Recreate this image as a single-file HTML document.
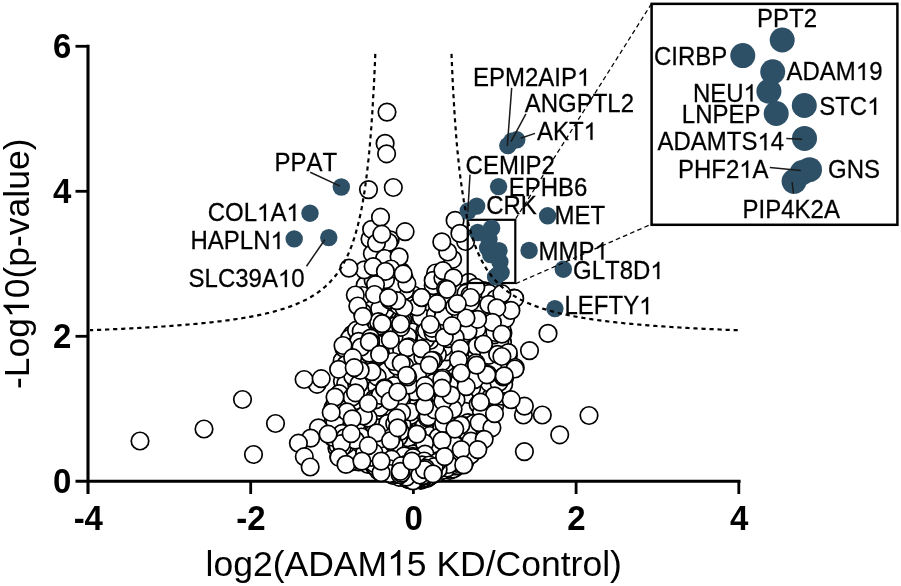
<!DOCTYPE html>
<html><head><meta charset="utf-8"><title>Volcano plot</title>
<style>
html,body{margin:0;padding:0;background:#fff;}
body{width:901px;height:586px;overflow:hidden;font-family:"Liberation Sans",sans-serif;}
svg{display:block;will-change:transform}
text{font-family:"Liberation Sans",sans-serif;fill:#000}
.lab{font-size:24px;font-kerning:none;stroke:#000;stroke-width:0.25px}
.tick{font-size:33px;font-weight:bold}
.title{font-size:35.5px;font-kerning:none}
.w circle{fill:#fff;stroke:#000;stroke-width:1.7}
.d circle{fill:#2d5066}
.ln line{stroke:#1a1a1a;stroke-width:1.5}
</style></head><body>
<svg width="901" height="586" viewBox="0 0 901 586">
<rect width="901" height="586" fill="#fff"/>

<g stroke="#000" stroke-width="3.1" fill="none">
<path d="M88 44.8V494"/>
<path d="M75.5 481.3H740.6"/>
</g>
<g stroke="#000" stroke-width="2.8" fill="none">
<path d="M75.5 336.3H88"/>
<path d="M75.5 191.3H88"/>
<path d="M75.5 46.3H88"/>
<path d="M250.7 481.3V494"/>
<path d="M413.4 481.3V494"/>
<path d="M576.1 481.3V494"/>
<path d="M738.8 481.3V494"/>
</g>
<text class="tick" transform="translate(71.3 493.0) scale(1 1.041)" text-anchor="end">0</text>
<text class="tick" transform="translate(71.3 348.0) scale(1 1.041)" text-anchor="end">2</text>
<text class="tick" transform="translate(71.3 203.0) scale(1 1.041)" text-anchor="end">4</text>
<text class="tick" transform="translate(71.3 58.0) scale(1 1.041)" text-anchor="end">6</text>
<text class="tick" transform="translate(88.3 530.1) scale(1 1.041)" text-anchor="middle">-4</text>
<text class="tick" transform="translate(251.0 530.1) scale(1 1.041)" text-anchor="middle">-2</text>
<text class="tick" transform="translate(413.7 530.1) scale(1 1.041)" text-anchor="middle">0</text>
<text class="tick" transform="translate(576.4 530.1) scale(1 1.041)" text-anchor="middle">2</text>
<text class="tick" transform="translate(739.1 530.1) scale(1 1.041)" text-anchor="middle">4</text>
<g transform="translate(205.55 575.6)"><text class="title"><tspan x="0.00">log2(ADAM</tspan><tspan x="201.25">5 KD/Control)</tspan></text><path class="title" vector-effect="non-scaling-stroke" transform="translate(181.50 0) scale(0.01733 -0.01733)" d="M763 0H583V1147Q518 1085 412.5 1023T223 930V1104Q374 1175 487 1276T647 1472H763Z"/></g>
<g transform="translate(29 389.11) rotate(-90)"><text class="title"><tspan x="0.00">-Log</tspan><tspan x="90.80">0(p-value)</tspan></text><path class="title" vector-effect="non-scaling-stroke" transform="translate(71.05 0) scale(0.01733 -0.01733)" d="M763 0H583V1147Q518 1085 412.5 1023T223 930V1104Q374 1175 487 1276T647 1472H763Z"/></g>
<g class="w">
<circle cx="411.0" cy="465.1" r="8.75"/>
<circle cx="346.2" cy="346.0" r="8.75"/>
<circle cx="433.9" cy="437.2" r="8.75"/>
<circle cx="410.8" cy="411.4" r="8.75"/>
<circle cx="410.5" cy="422.5" r="8.75"/>
<circle cx="425.0" cy="470.6" r="8.75"/>
<circle cx="369.7" cy="373.4" r="8.75"/>
<circle cx="370.8" cy="281.0" r="8.75"/>
<circle cx="387.1" cy="330.0" r="8.75"/>
<circle cx="367.4" cy="313.4" r="8.75"/>
<circle cx="471.2" cy="325.2" r="8.75"/>
<circle cx="452.6" cy="454.8" r="8.75"/>
<circle cx="486.2" cy="293.2" r="8.75"/>
<circle cx="457.5" cy="454.1" r="8.75"/>
<circle cx="404.8" cy="473.1" r="8.75"/>
<circle cx="423.2" cy="367.0" r="8.75"/>
<circle cx="406.9" cy="361.2" r="8.75"/>
<circle cx="423.8" cy="466.4" r="8.75"/>
<circle cx="482.9" cy="384.4" r="8.75"/>
<circle cx="407.3" cy="444.6" r="8.75"/>
<circle cx="341.5" cy="391.4" r="8.75"/>
<circle cx="475.8" cy="369.6" r="8.75"/>
<circle cx="438.1" cy="450.6" r="8.75"/>
<circle cx="394.6" cy="442.6" r="8.75"/>
<circle cx="426.8" cy="443.1" r="8.75"/>
<circle cx="403.2" cy="424.4" r="8.75"/>
<circle cx="471.8" cy="387.1" r="8.75"/>
<circle cx="416.6" cy="439.2" r="8.75"/>
<circle cx="421.0" cy="471.5" r="8.75"/>
<circle cx="483.1" cy="304.5" r="8.75"/>
<circle cx="395.2" cy="419.2" r="8.75"/>
<circle cx="472.4" cy="442.0" r="8.75"/>
<circle cx="423.4" cy="433.4" r="8.75"/>
<circle cx="452.9" cy="281.8" r="8.75"/>
<circle cx="375.2" cy="365.7" r="8.75"/>
<circle cx="419.9" cy="406.3" r="8.75"/>
<circle cx="423.3" cy="438.2" r="8.75"/>
<circle cx="439.4" cy="432.8" r="8.75"/>
<circle cx="460.8" cy="374.2" r="8.75"/>
<circle cx="412.9" cy="429.7" r="8.75"/>
<circle cx="438.7" cy="460.9" r="8.75"/>
<circle cx="342.1" cy="430.4" r="8.75"/>
<circle cx="378.4" cy="270.0" r="8.75"/>
<circle cx="366.1" cy="331.2" r="8.75"/>
<circle cx="434.1" cy="466.9" r="8.75"/>
<circle cx="383.3" cy="371.6" r="8.75"/>
<circle cx="347.4" cy="356.7" r="8.75"/>
<circle cx="386.2" cy="462.4" r="8.75"/>
<circle cx="469.1" cy="413.5" r="8.75"/>
<circle cx="441.5" cy="307.1" r="8.75"/>
<circle cx="420.2" cy="448.7" r="8.75"/>
<circle cx="429.6" cy="432.8" r="8.75"/>
<circle cx="425.4" cy="454.6" r="8.75"/>
<circle cx="448.4" cy="312.3" r="8.75"/>
<circle cx="390.2" cy="431.5" r="8.75"/>
<circle cx="402.7" cy="345.1" r="8.75"/>
<circle cx="491.0" cy="380.1" r="8.75"/>
<circle cx="360.1" cy="420.7" r="8.75"/>
<circle cx="410.5" cy="450.7" r="8.75"/>
<circle cx="426.4" cy="445.6" r="8.75"/>
<circle cx="437.1" cy="426.7" r="8.75"/>
<circle cx="380.9" cy="442.7" r="8.75"/>
<circle cx="381.7" cy="427.1" r="8.75"/>
<circle cx="446.4" cy="447.0" r="8.75"/>
<circle cx="343.7" cy="385.4" r="8.75"/>
<circle cx="423.1" cy="357.9" r="8.75"/>
<circle cx="418.4" cy="397.5" r="8.75"/>
<circle cx="365.5" cy="456.9" r="8.75"/>
<circle cx="413.8" cy="447.1" r="8.75"/>
<circle cx="463.8" cy="286.0" r="8.75"/>
<circle cx="465.4" cy="444.2" r="8.75"/>
<circle cx="476.5" cy="305.4" r="8.75"/>
<circle cx="407.5" cy="432.7" r="8.75"/>
<circle cx="397.1" cy="447.1" r="8.75"/>
<circle cx="380.5" cy="466.7" r="8.75"/>
<circle cx="426.2" cy="407.9" r="8.75"/>
<circle cx="436.4" cy="430.7" r="8.75"/>
<circle cx="400.0" cy="301.0" r="8.75"/>
<circle cx="436.5" cy="288.1" r="8.75"/>
<circle cx="336.5" cy="420.1" r="8.75"/>
<circle cx="403.2" cy="320.4" r="8.75"/>
<circle cx="396.0" cy="430.8" r="8.75"/>
<circle cx="403.2" cy="449.3" r="8.75"/>
<circle cx="394.9" cy="467.7" r="8.75"/>
<circle cx="454.6" cy="316.1" r="8.75"/>
<circle cx="460.6" cy="373.7" r="8.75"/>
<circle cx="442.7" cy="461.9" r="8.75"/>
<circle cx="430.2" cy="445.4" r="8.75"/>
<circle cx="414.9" cy="435.5" r="8.75"/>
<circle cx="461.0" cy="444.0" r="8.75"/>
<circle cx="375.8" cy="278.0" r="8.75"/>
<circle cx="453.6" cy="311.8" r="8.75"/>
<circle cx="415.9" cy="463.8" r="8.75"/>
<circle cx="410.2" cy="474.9" r="8.75"/>
<circle cx="380.9" cy="346.5" r="8.75"/>
<circle cx="408.7" cy="423.2" r="8.75"/>
<circle cx="436.8" cy="458.4" r="8.75"/>
<circle cx="444.4" cy="404.0" r="8.75"/>
<circle cx="493.3" cy="400.9" r="8.75"/>
<circle cx="425.3" cy="427.9" r="8.75"/>
<circle cx="384.7" cy="468.8" r="8.75"/>
<circle cx="377.3" cy="339.5" r="8.75"/>
<circle cx="417.3" cy="459.2" r="8.75"/>
<circle cx="371.4" cy="410.5" r="8.75"/>
<circle cx="405.7" cy="355.0" r="8.75"/>
<circle cx="405.9" cy="427.5" r="8.75"/>
<circle cx="478.5" cy="441.8" r="8.75"/>
<circle cx="428.9" cy="423.0" r="8.75"/>
<circle cx="410.5" cy="457.6" r="8.75"/>
<circle cx="423.8" cy="475.3" r="8.75"/>
<circle cx="405.9" cy="441.5" r="8.75"/>
<circle cx="452.9" cy="433.0" r="8.75"/>
<circle cx="438.1" cy="336.8" r="8.75"/>
<circle cx="428.6" cy="454.7" r="8.75"/>
<circle cx="448.1" cy="291.7" r="8.75"/>
<circle cx="385.1" cy="426.5" r="8.75"/>
<circle cx="458.2" cy="400.1" r="8.75"/>
<circle cx="367.9" cy="453.8" r="8.75"/>
<circle cx="465.0" cy="381.9" r="8.75"/>
<circle cx="408.2" cy="458.1" r="8.75"/>
<circle cx="389.0" cy="265.5" r="8.75"/>
<circle cx="420.9" cy="480.3" r="8.75"/>
<circle cx="444.4" cy="350.0" r="8.75"/>
<circle cx="407.0" cy="472.0" r="8.75"/>
<circle cx="381.1" cy="447.1" r="8.75"/>
<circle cx="409.4" cy="438.6" r="8.75"/>
<circle cx="449.9" cy="470.4" r="8.75"/>
<circle cx="429.0" cy="438.9" r="8.75"/>
<circle cx="455.1" cy="462.0" r="8.75"/>
<circle cx="364.2" cy="388.4" r="8.75"/>
<circle cx="403.4" cy="285.6" r="8.75"/>
<circle cx="421.0" cy="456.2" r="8.75"/>
<circle cx="393.9" cy="407.9" r="8.75"/>
<circle cx="380.6" cy="457.4" r="8.75"/>
<circle cx="434.8" cy="419.8" r="8.75"/>
<circle cx="352.3" cy="334.4" r="8.75"/>
<circle cx="438.0" cy="421.3" r="8.75"/>
<circle cx="371.7" cy="453.7" r="8.75"/>
<circle cx="403.9" cy="441.0" r="8.75"/>
<circle cx="447.8" cy="281.8" r="8.75"/>
<circle cx="355.7" cy="334.0" r="8.75"/>
<circle cx="432.1" cy="450.9" r="8.75"/>
<circle cx="385.3" cy="402.6" r="8.75"/>
<circle cx="413.9" cy="440.8" r="8.75"/>
<circle cx="502.4" cy="378.3" r="8.75"/>
<circle cx="345.2" cy="384.4" r="8.75"/>
<circle cx="467.9" cy="324.0" r="8.75"/>
<circle cx="469.9" cy="296.3" r="8.75"/>
<circle cx="352.4" cy="437.0" r="8.75"/>
<circle cx="397.4" cy="461.3" r="8.75"/>
<circle cx="385.8" cy="445.5" r="8.75"/>
<circle cx="418.4" cy="463.2" r="8.75"/>
<circle cx="383.9" cy="343.0" r="8.75"/>
<circle cx="375.7" cy="422.7" r="8.75"/>
<circle cx="454.7" cy="468.3" r="8.75"/>
<circle cx="421.9" cy="454.8" r="8.75"/>
<circle cx="414.2" cy="362.3" r="8.75"/>
<circle cx="458.3" cy="419.0" r="8.75"/>
<circle cx="368.5" cy="326.3" r="8.75"/>
<circle cx="372.1" cy="420.6" r="8.75"/>
<circle cx="401.5" cy="418.6" r="8.75"/>
<circle cx="402.4" cy="468.0" r="8.75"/>
<circle cx="485.3" cy="330.5" r="8.75"/>
<circle cx="456.6" cy="429.6" r="8.75"/>
<circle cx="337.9" cy="446.7" r="8.75"/>
<circle cx="433.0" cy="331.4" r="8.75"/>
<circle cx="387.6" cy="404.9" r="8.75"/>
<circle cx="426.9" cy="397.1" r="8.75"/>
<circle cx="370.7" cy="326.3" r="8.75"/>
<circle cx="397.6" cy="319.9" r="8.75"/>
<circle cx="409.0" cy="377.7" r="8.75"/>
<circle cx="414.4" cy="457.3" r="8.75"/>
<circle cx="425.1" cy="443.7" r="8.75"/>
<circle cx="378.3" cy="470.6" r="8.75"/>
<circle cx="359.6" cy="402.3" r="8.75"/>
<circle cx="424.6" cy="344.4" r="8.75"/>
<circle cx="416.3" cy="365.2" r="8.75"/>
<circle cx="405.1" cy="384.0" r="8.75"/>
<circle cx="425.0" cy="362.9" r="8.75"/>
<circle cx="375.5" cy="438.9" r="8.75"/>
<circle cx="397.8" cy="470.3" r="8.75"/>
<circle cx="447.5" cy="463.4" r="8.75"/>
<circle cx="485.3" cy="291.0" r="8.75"/>
<circle cx="468.1" cy="453.9" r="8.75"/>
<circle cx="469.6" cy="335.8" r="8.75"/>
<circle cx="480.1" cy="361.3" r="8.75"/>
<circle cx="397.9" cy="303.6" r="8.75"/>
<circle cx="390.8" cy="376.4" r="8.75"/>
<circle cx="397.4" cy="373.8" r="8.75"/>
<circle cx="422.4" cy="333.6" r="8.75"/>
<circle cx="433.5" cy="346.2" r="8.75"/>
<circle cx="402.3" cy="468.0" r="8.75"/>
<circle cx="379.1" cy="423.9" r="8.75"/>
<circle cx="388.2" cy="454.6" r="8.75"/>
<circle cx="426.9" cy="442.2" r="8.75"/>
<circle cx="447.3" cy="296.8" r="8.75"/>
<circle cx="453.5" cy="462.8" r="8.75"/>
<circle cx="366.3" cy="381.2" r="8.75"/>
<circle cx="353.7" cy="367.9" r="8.75"/>
<circle cx="439.1" cy="390.8" r="8.75"/>
<circle cx="460.9" cy="411.7" r="8.75"/>
<circle cx="423.3" cy="315.9" r="8.75"/>
<circle cx="426.4" cy="442.0" r="8.75"/>
<circle cx="423.2" cy="479.5" r="8.75"/>
<circle cx="442.4" cy="445.4" r="8.75"/>
<circle cx="458.1" cy="463.7" r="8.75"/>
<circle cx="466.3" cy="444.4" r="8.75"/>
<circle cx="413.4" cy="451.0" r="8.75"/>
<circle cx="438.0" cy="454.5" r="8.75"/>
<circle cx="486.7" cy="354.3" r="8.75"/>
<circle cx="413.0" cy="464.5" r="8.75"/>
<circle cx="386.0" cy="382.7" r="8.75"/>
<circle cx="502.5" cy="342.3" r="8.75"/>
<circle cx="408.8" cy="473.9" r="8.75"/>
<circle cx="336.4" cy="423.0" r="8.75"/>
<circle cx="360.9" cy="296.2" r="8.75"/>
<circle cx="401.3" cy="462.5" r="8.75"/>
<circle cx="464.1" cy="443.4" r="8.75"/>
<circle cx="338.6" cy="430.2" r="8.75"/>
<circle cx="446.5" cy="418.8" r="8.75"/>
<circle cx="402.8" cy="429.3" r="8.75"/>
<circle cx="404.8" cy="436.2" r="8.75"/>
<circle cx="474.1" cy="368.0" r="8.75"/>
<circle cx="381.2" cy="280.0" r="8.75"/>
<circle cx="413.2" cy="305.7" r="8.75"/>
<circle cx="433.7" cy="447.5" r="8.75"/>
<circle cx="449.1" cy="401.5" r="8.75"/>
<circle cx="446.4" cy="367.0" r="8.75"/>
<circle cx="449.1" cy="311.1" r="8.75"/>
<circle cx="412.9" cy="295.6" r="8.75"/>
<circle cx="437.5" cy="320.9" r="8.75"/>
<circle cx="368.2" cy="351.8" r="8.75"/>
<circle cx="355.1" cy="442.7" r="8.75"/>
<circle cx="384.1" cy="396.4" r="8.75"/>
<circle cx="484.9" cy="350.8" r="8.75"/>
<circle cx="438.3" cy="461.8" r="8.75"/>
<circle cx="447.0" cy="447.9" r="8.75"/>
<circle cx="342.1" cy="360.9" r="8.75"/>
<circle cx="449.9" cy="457.9" r="8.75"/>
<circle cx="434.6" cy="283.9" r="8.75"/>
<circle cx="457.3" cy="288.0" r="8.75"/>
<circle cx="430.1" cy="373.8" r="8.75"/>
<circle cx="448.0" cy="400.0" r="8.75"/>
<circle cx="355.3" cy="341.3" r="8.75"/>
<circle cx="447.8" cy="320.3" r="8.75"/>
<circle cx="436.9" cy="415.0" r="8.75"/>
<circle cx="407.4" cy="371.6" r="8.75"/>
<circle cx="357.7" cy="346.1" r="8.75"/>
<circle cx="422.8" cy="428.1" r="8.75"/>
<circle cx="354.1" cy="460.4" r="8.75"/>
<circle cx="409.4" cy="349.8" r="8.75"/>
<circle cx="401.6" cy="442.4" r="8.75"/>
<circle cx="380.7" cy="452.3" r="8.75"/>
<circle cx="387.4" cy="461.3" r="8.75"/>
<circle cx="475.1" cy="385.0" r="8.75"/>
<circle cx="333.5" cy="438.0" r="8.75"/>
<circle cx="468.0" cy="362.1" r="8.75"/>
<circle cx="352.6" cy="354.9" r="8.75"/>
<circle cx="413.5" cy="378.7" r="8.75"/>
<circle cx="440.3" cy="417.4" r="8.75"/>
<circle cx="506.7" cy="302.9" r="8.75"/>
<circle cx="392.8" cy="388.2" r="8.75"/>
<circle cx="388.0" cy="377.8" r="8.75"/>
<circle cx="360.2" cy="402.2" r="8.75"/>
<circle cx="357.4" cy="440.3" r="8.75"/>
<circle cx="425.5" cy="438.7" r="8.75"/>
<circle cx="431.3" cy="463.3" r="8.75"/>
<circle cx="403.0" cy="334.0" r="8.75"/>
<circle cx="384.8" cy="464.2" r="8.75"/>
<circle cx="485.1" cy="353.2" r="8.75"/>
<circle cx="486.4" cy="322.8" r="8.75"/>
<circle cx="419.3" cy="412.9" r="8.75"/>
<circle cx="447.9" cy="446.4" r="8.75"/>
<circle cx="349.6" cy="338.4" r="8.75"/>
<circle cx="397.7" cy="460.5" r="8.75"/>
<circle cx="465.8" cy="450.0" r="8.75"/>
<circle cx="458.5" cy="410.0" r="8.75"/>
<circle cx="497.7" cy="360.6" r="8.75"/>
<circle cx="401.3" cy="437.5" r="8.75"/>
<circle cx="371.6" cy="445.0" r="8.75"/>
<circle cx="357.4" cy="444.9" r="8.75"/>
<circle cx="413.9" cy="449.7" r="8.75"/>
<circle cx="437.5" cy="472.9" r="8.75"/>
<circle cx="353.3" cy="427.9" r="8.75"/>
<circle cx="342.4" cy="381.1" r="8.75"/>
<circle cx="436.9" cy="443.8" r="8.75"/>
<circle cx="384.5" cy="423.1" r="8.75"/>
<circle cx="387.2" cy="328.1" r="8.75"/>
<circle cx="363.9" cy="377.4" r="8.75"/>
<circle cx="432.1" cy="422.6" r="8.75"/>
<circle cx="396.4" cy="341.7" r="8.75"/>
<circle cx="412.3" cy="376.0" r="8.75"/>
<circle cx="357.9" cy="424.6" r="8.75"/>
<circle cx="382.1" cy="422.5" r="8.75"/>
<circle cx="396.1" cy="392.9" r="8.75"/>
<circle cx="443.4" cy="302.5" r="8.75"/>
<circle cx="413.6" cy="465.1" r="8.75"/>
<circle cx="407.0" cy="453.3" r="8.75"/>
<circle cx="441.2" cy="380.5" r="8.75"/>
<circle cx="446.0" cy="423.7" r="8.75"/>
<circle cx="375.3" cy="268.8" r="8.75"/>
<circle cx="430.5" cy="406.5" r="8.75"/>
<circle cx="483.3" cy="370.6" r="8.75"/>
<circle cx="492.4" cy="292.3" r="8.75"/>
<circle cx="433.7" cy="320.3" r="8.75"/>
<circle cx="403.4" cy="430.1" r="8.75"/>
<circle cx="373.1" cy="349.9" r="8.75"/>
<circle cx="349.2" cy="397.3" r="8.75"/>
<circle cx="346.4" cy="385.0" r="8.75"/>
<circle cx="353.2" cy="447.5" r="8.75"/>
<circle cx="400.5" cy="472.0" r="8.75"/>
<circle cx="400.7" cy="274.7" r="8.75"/>
<circle cx="408.7" cy="402.1" r="8.75"/>
<circle cx="425.1" cy="356.6" r="8.75"/>
<circle cx="352.2" cy="354.8" r="8.75"/>
<circle cx="419.0" cy="468.9" r="8.75"/>
<circle cx="336.9" cy="448.0" r="8.75"/>
<circle cx="400.2" cy="470.1" r="8.75"/>
<circle cx="462.1" cy="440.3" r="8.75"/>
<circle cx="460.5" cy="440.7" r="8.75"/>
<circle cx="478.3" cy="404.5" r="8.75"/>
<circle cx="451.8" cy="377.3" r="8.75"/>
<circle cx="357.7" cy="452.9" r="8.75"/>
<circle cx="445.1" cy="330.4" r="8.75"/>
<circle cx="475.9" cy="401.9" r="8.75"/>
<circle cx="497.3" cy="341.9" r="8.75"/>
<circle cx="446.5" cy="418.8" r="8.75"/>
<circle cx="406.7" cy="459.6" r="8.75"/>
<circle cx="375.2" cy="439.8" r="8.75"/>
<circle cx="391.8" cy="452.5" r="8.75"/>
<circle cx="353.3" cy="368.6" r="8.75"/>
<circle cx="427.7" cy="464.3" r="8.75"/>
<circle cx="407.4" cy="362.9" r="8.75"/>
<circle cx="466.4" cy="454.6" r="8.75"/>
<circle cx="386.6" cy="439.3" r="8.75"/>
<circle cx="425.2" cy="448.4" r="8.75"/>
<circle cx="464.2" cy="362.8" r="8.75"/>
<circle cx="415.9" cy="344.2" r="8.75"/>
<circle cx="438.8" cy="397.0" r="8.75"/>
<circle cx="407.0" cy="444.0" r="8.75"/>
<circle cx="397.8" cy="443.9" r="8.75"/>
<circle cx="439.2" cy="409.6" r="8.75"/>
<circle cx="439.2" cy="398.8" r="8.75"/>
<circle cx="366.1" cy="370.3" r="8.75"/>
<circle cx="477.8" cy="448.0" r="8.75"/>
<circle cx="471.3" cy="342.6" r="8.75"/>
<circle cx="409.8" cy="461.6" r="8.75"/>
<circle cx="459.6" cy="465.5" r="8.75"/>
<circle cx="368.0" cy="275.6" r="8.75"/>
<circle cx="484.7" cy="432.9" r="8.75"/>
<circle cx="418.7" cy="377.8" r="8.75"/>
<circle cx="502.9" cy="333.3" r="8.75"/>
<circle cx="423.4" cy="466.9" r="8.75"/>
<circle cx="340.8" cy="425.4" r="8.75"/>
<circle cx="358.8" cy="462.0" r="8.75"/>
<circle cx="394.9" cy="442.9" r="8.75"/>
<circle cx="416.7" cy="439.6" r="8.75"/>
<circle cx="455.6" cy="320.0" r="8.75"/>
<circle cx="477.7" cy="406.0" r="8.75"/>
<circle cx="445.3" cy="382.4" r="8.75"/>
<circle cx="413.2" cy="337.3" r="8.75"/>
<circle cx="462.6" cy="400.5" r="8.75"/>
<circle cx="407.5" cy="462.5" r="8.75"/>
<circle cx="433.8" cy="419.3" r="8.75"/>
<circle cx="385.4" cy="393.5" r="8.75"/>
<circle cx="418.8" cy="435.8" r="8.75"/>
<circle cx="405.2" cy="340.4" r="8.75"/>
<circle cx="399.4" cy="415.6" r="8.75"/>
<circle cx="412.1" cy="332.0" r="8.75"/>
<circle cx="360.7" cy="389.7" r="8.75"/>
<circle cx="433.3" cy="458.0" r="8.75"/>
<circle cx="407.2" cy="468.8" r="8.75"/>
<circle cx="468.7" cy="282.3" r="8.75"/>
<circle cx="396.7" cy="420.9" r="8.75"/>
<circle cx="344.7" cy="368.4" r="8.75"/>
<circle cx="471.4" cy="390.6" r="8.75"/>
<circle cx="409.9" cy="471.3" r="8.75"/>
<circle cx="466.4" cy="363.6" r="8.75"/>
<circle cx="442.0" cy="400.7" r="8.75"/>
<circle cx="403.9" cy="412.8" r="8.75"/>
<circle cx="400.7" cy="474.1" r="8.75"/>
<circle cx="368.7" cy="370.8" r="8.75"/>
<circle cx="407.8" cy="416.9" r="8.75"/>
<circle cx="437.8" cy="302.1" r="8.75"/>
<circle cx="432.9" cy="457.0" r="8.75"/>
<circle cx="481.9" cy="435.7" r="8.75"/>
<circle cx="384.1" cy="469.6" r="8.75"/>
<circle cx="395.1" cy="469.1" r="8.75"/>
<circle cx="389.9" cy="461.5" r="8.75"/>
<circle cx="439.2" cy="356.3" r="8.75"/>
<circle cx="461.3" cy="449.0" r="8.75"/>
<circle cx="416.4" cy="432.8" r="8.75"/>
<circle cx="397.8" cy="450.5" r="8.75"/>
<circle cx="479.9" cy="401.6" r="8.75"/>
<circle cx="417.1" cy="403.9" r="8.75"/>
<circle cx="420.3" cy="424.6" r="8.75"/>
<circle cx="391.1" cy="287.7" r="8.75"/>
<circle cx="377.8" cy="281.3" r="8.75"/>
<circle cx="423.9" cy="407.4" r="8.75"/>
<circle cx="424.9" cy="428.1" r="8.75"/>
<circle cx="400.0" cy="369.8" r="8.75"/>
<circle cx="406.2" cy="451.6" r="8.75"/>
<circle cx="348.5" cy="373.7" r="8.75"/>
<circle cx="466.4" cy="435.5" r="8.75"/>
<circle cx="454.2" cy="437.0" r="8.75"/>
<circle cx="482.6" cy="389.4" r="8.75"/>
<circle cx="368.0" cy="464.4" r="8.75"/>
<circle cx="373.6" cy="285.9" r="8.75"/>
<circle cx="427.4" cy="447.8" r="8.75"/>
<circle cx="403.5" cy="456.9" r="8.75"/>
<circle cx="437.5" cy="401.8" r="8.75"/>
<circle cx="462.8" cy="384.8" r="8.75"/>
<circle cx="345.8" cy="463.0" r="8.75"/>
<circle cx="432.4" cy="454.8" r="8.75"/>
<circle cx="399.0" cy="451.0" r="8.75"/>
<circle cx="404.2" cy="450.7" r="8.75"/>
<circle cx="423.8" cy="434.8" r="8.75"/>
<circle cx="396.5" cy="406.9" r="8.75"/>
<circle cx="402.1" cy="465.7" r="8.75"/>
<circle cx="374.5" cy="449.4" r="8.75"/>
<circle cx="494.6" cy="406.5" r="8.75"/>
<circle cx="385.3" cy="459.1" r="8.75"/>
<circle cx="385.9" cy="366.3" r="8.75"/>
<circle cx="493.9" cy="344.8" r="8.75"/>
<circle cx="417.5" cy="453.5" r="8.75"/>
<circle cx="425.0" cy="417.9" r="8.75"/>
<circle cx="471.8" cy="387.6" r="8.75"/>
<circle cx="485.5" cy="342.5" r="8.75"/>
<circle cx="394.5" cy="434.4" r="8.75"/>
<circle cx="374.2" cy="423.8" r="8.75"/>
<circle cx="388.8" cy="455.8" r="8.75"/>
<circle cx="385.3" cy="295.2" r="8.75"/>
<circle cx="448.0" cy="458.9" r="8.75"/>
<circle cx="393.3" cy="441.6" r="8.75"/>
<circle cx="395.3" cy="329.3" r="8.75"/>
<circle cx="374.4" cy="466.5" r="8.75"/>
<circle cx="427.5" cy="420.7" r="8.75"/>
<circle cx="412.7" cy="469.1" r="8.75"/>
<circle cx="416.9" cy="369.8" r="8.75"/>
<circle cx="409.9" cy="466.8" r="8.75"/>
<circle cx="410.1" cy="409.9" r="8.75"/>
<circle cx="371.2" cy="447.8" r="8.75"/>
<circle cx="416.0" cy="451.0" r="8.75"/>
<circle cx="388.7" cy="461.7" r="8.75"/>
<circle cx="375.9" cy="312.9" r="8.75"/>
<circle cx="414.3" cy="426.4" r="8.75"/>
<circle cx="401.1" cy="451.8" r="8.75"/>
<circle cx="478.7" cy="354.7" r="8.75"/>
<circle cx="457.7" cy="329.2" r="8.75"/>
<circle cx="406.2" cy="450.6" r="8.75"/>
<circle cx="422.4" cy="425.9" r="8.75"/>
<circle cx="404.1" cy="442.1" r="8.75"/>
<circle cx="395.8" cy="387.2" r="8.75"/>
<circle cx="412.1" cy="377.7" r="8.75"/>
<circle cx="383.8" cy="338.0" r="8.75"/>
<circle cx="442.1" cy="436.8" r="8.75"/>
<circle cx="423.9" cy="462.1" r="8.75"/>
<circle cx="390.2" cy="437.5" r="8.75"/>
<circle cx="482.5" cy="290.6" r="8.75"/>
<circle cx="408.3" cy="394.6" r="8.75"/>
<circle cx="411.9" cy="352.7" r="8.75"/>
<circle cx="373.2" cy="333.8" r="8.75"/>
<circle cx="402.4" cy="448.2" r="8.75"/>
<circle cx="472.8" cy="406.7" r="8.75"/>
<circle cx="427.3" cy="370.6" r="8.75"/>
<circle cx="414.1" cy="427.3" r="8.75"/>
<circle cx="359.5" cy="444.5" r="8.75"/>
<circle cx="359.3" cy="367.4" r="8.75"/>
<circle cx="447.4" cy="309.9" r="8.75"/>
<circle cx="389.3" cy="387.8" r="8.75"/>
<circle cx="350.2" cy="422.4" r="8.75"/>
<circle cx="417.6" cy="349.2" r="8.75"/>
<circle cx="435.9" cy="388.5" r="8.75"/>
<circle cx="423.7" cy="300.2" r="8.75"/>
<circle cx="354.6" cy="345.6" r="8.75"/>
<circle cx="473.1" cy="341.9" r="8.75"/>
<circle cx="358.1" cy="332.2" r="8.75"/>
<circle cx="385.6" cy="428.8" r="8.75"/>
<circle cx="410.1" cy="421.4" r="8.75"/>
<circle cx="372.6" cy="368.4" r="8.75"/>
<circle cx="396.7" cy="368.5" r="8.75"/>
<circle cx="432.2" cy="350.6" r="8.75"/>
<circle cx="428.5" cy="413.1" r="8.75"/>
<circle cx="375.8" cy="467.0" r="8.75"/>
<circle cx="412.2" cy="479.0" r="8.75"/>
<circle cx="365.2" cy="414.8" r="8.75"/>
<circle cx="458.4" cy="435.5" r="8.75"/>
<circle cx="332.7" cy="423.0" r="8.75"/>
<circle cx="421.6" cy="443.6" r="8.75"/>
<circle cx="436.2" cy="388.6" r="8.75"/>
<circle cx="402.1" cy="361.9" r="8.75"/>
<circle cx="398.8" cy="427.0" r="8.75"/>
<circle cx="386.0" cy="446.2" r="8.75"/>
<circle cx="401.5" cy="321.5" r="8.75"/>
<circle cx="357.8" cy="430.2" r="8.75"/>
<circle cx="407.0" cy="430.8" r="8.75"/>
<circle cx="413.8" cy="410.1" r="8.75"/>
<circle cx="412.5" cy="451.4" r="8.75"/>
<circle cx="361.9" cy="341.8" r="8.75"/>
<circle cx="488.9" cy="343.0" r="8.75"/>
<circle cx="467.8" cy="335.4" r="8.75"/>
<circle cx="387.0" cy="456.1" r="8.75"/>
<circle cx="397.0" cy="402.0" r="8.75"/>
<circle cx="478.7" cy="439.0" r="8.75"/>
<circle cx="381.8" cy="463.7" r="8.75"/>
<circle cx="407.0" cy="460.0" r="8.75"/>
<circle cx="364.2" cy="404.7" r="8.75"/>
<circle cx="396.8" cy="459.3" r="8.75"/>
<circle cx="506.4" cy="314.4" r="8.75"/>
<circle cx="407.1" cy="436.3" r="8.75"/>
<circle cx="398.5" cy="397.8" r="8.75"/>
<circle cx="338.9" cy="456.7" r="8.75"/>
<circle cx="437.0" cy="436.1" r="8.75"/>
<circle cx="403.7" cy="452.9" r="8.75"/>
<circle cx="355.1" cy="406.2" r="8.75"/>
<circle cx="394.7" cy="413.5" r="8.75"/>
<circle cx="404.9" cy="444.5" r="8.75"/>
<circle cx="448.7" cy="435.3" r="8.75"/>
<circle cx="423.2" cy="383.1" r="8.75"/>
<circle cx="441.6" cy="408.1" r="8.75"/>
<circle cx="353.5" cy="435.7" r="8.75"/>
<circle cx="453.3" cy="425.7" r="8.75"/>
<circle cx="374.1" cy="293.2" r="8.75"/>
<circle cx="373.6" cy="327.7" r="8.75"/>
<circle cx="405.0" cy="468.1" r="8.75"/>
<circle cx="387.3" cy="311.6" r="8.75"/>
<circle cx="435.6" cy="284.8" r="8.75"/>
<circle cx="409.9" cy="448.8" r="8.75"/>
<circle cx="487.3" cy="355.6" r="8.75"/>
<circle cx="400.7" cy="460.1" r="8.75"/>
<circle cx="390.1" cy="457.2" r="8.75"/>
<circle cx="358.4" cy="426.6" r="8.75"/>
<circle cx="382.9" cy="465.2" r="8.75"/>
<circle cx="394.1" cy="456.5" r="8.75"/>
<circle cx="440.4" cy="465.4" r="8.75"/>
<circle cx="491.2" cy="396.5" r="8.75"/>
<circle cx="420.9" cy="470.4" r="8.75"/>
<circle cx="421.1" cy="411.2" r="8.75"/>
<circle cx="480.4" cy="412.3" r="8.75"/>
<circle cx="403.2" cy="466.1" r="8.75"/>
<circle cx="424.0" cy="419.7" r="8.75"/>
<circle cx="384.1" cy="312.3" r="8.75"/>
<circle cx="372.7" cy="371.3" r="8.75"/>
<circle cx="435.4" cy="376.5" r="8.75"/>
<circle cx="419.5" cy="390.2" r="8.75"/>
<circle cx="403.5" cy="353.1" r="8.75"/>
<circle cx="429.1" cy="449.2" r="8.75"/>
<circle cx="364.2" cy="349.8" r="8.75"/>
<circle cx="363.5" cy="400.0" r="8.75"/>
<circle cx="436.3" cy="402.0" r="8.75"/>
<circle cx="374.9" cy="309.0" r="8.75"/>
<circle cx="389.7" cy="376.8" r="8.75"/>
<circle cx="379.1" cy="466.8" r="8.75"/>
<circle cx="385.4" cy="310.2" r="8.75"/>
<circle cx="441.6" cy="321.1" r="8.75"/>
<circle cx="406.4" cy="387.2" r="8.75"/>
<circle cx="488.8" cy="377.9" r="8.75"/>
<circle cx="415.5" cy="451.5" r="8.75"/>
<circle cx="446.7" cy="341.8" r="8.75"/>
<circle cx="374.7" cy="375.0" r="8.75"/>
<circle cx="474.3" cy="371.4" r="8.75"/>
<circle cx="366.0" cy="397.7" r="8.75"/>
<circle cx="432.8" cy="462.4" r="8.75"/>
<circle cx="452.3" cy="428.5" r="8.75"/>
<circle cx="412.6" cy="476.9" r="8.75"/>
<circle cx="361.4" cy="451.1" r="8.75"/>
<circle cx="442.0" cy="460.9" r="8.75"/>
<circle cx="438.3" cy="462.5" r="8.75"/>
<circle cx="407.6" cy="336.5" r="8.75"/>
<circle cx="381.8" cy="335.6" r="8.75"/>
<circle cx="446.0" cy="451.3" r="8.75"/>
<circle cx="382.5" cy="469.2" r="8.75"/>
<circle cx="444.5" cy="454.9" r="8.75"/>
<circle cx="419.4" cy="446.1" r="8.75"/>
<circle cx="407.0" cy="401.4" r="8.75"/>
<circle cx="450.9" cy="333.5" r="8.75"/>
<circle cx="371.6" cy="284.0" r="8.75"/>
<circle cx="406.7" cy="439.8" r="8.75"/>
<circle cx="494.8" cy="394.0" r="8.75"/>
<circle cx="348.6" cy="405.8" r="8.75"/>
<circle cx="391.6" cy="447.7" r="8.75"/>
<circle cx="400.8" cy="454.6" r="8.75"/>
<circle cx="420.5" cy="475.2" r="8.75"/>
<circle cx="434.7" cy="428.7" r="8.75"/>
<circle cx="476.7" cy="318.8" r="8.75"/>
<circle cx="410.3" cy="447.0" r="8.75"/>
<circle cx="389.4" cy="461.4" r="8.75"/>
<circle cx="450.1" cy="286.0" r="8.75"/>
<circle cx="477.6" cy="405.4" r="8.75"/>
<circle cx="356.2" cy="414.9" r="8.75"/>
<circle cx="438.9" cy="453.4" r="8.75"/>
<circle cx="365.6" cy="285.2" r="8.75"/>
<circle cx="406.5" cy="417.2" r="8.75"/>
<circle cx="403.8" cy="423.9" r="8.75"/>
<circle cx="435.6" cy="455.4" r="8.75"/>
<circle cx="375.6" cy="326.9" r="8.75"/>
<circle cx="489.0" cy="293.4" r="8.75"/>
<circle cx="504.4" cy="301.5" r="8.75"/>
<circle cx="466.9" cy="454.6" r="8.75"/>
<circle cx="399.6" cy="447.8" r="8.75"/>
<circle cx="367.5" cy="321.7" r="8.75"/>
<circle cx="508.3" cy="355.7" r="8.75"/>
<circle cx="428.2" cy="403.2" r="8.75"/>
<circle cx="338.0" cy="445.4" r="8.75"/>
<circle cx="345.7" cy="383.9" r="8.75"/>
<circle cx="406.0" cy="431.8" r="8.75"/>
<circle cx="452.7" cy="469.2" r="8.75"/>
<circle cx="391.7" cy="429.8" r="8.75"/>
<circle cx="419.6" cy="460.2" r="8.75"/>
<circle cx="460.1" cy="384.2" r="8.75"/>
<circle cx="401.2" cy="430.8" r="8.75"/>
<circle cx="427.0" cy="465.1" r="8.75"/>
<circle cx="406.8" cy="426.3" r="8.75"/>
<circle cx="373.5" cy="288.9" r="8.75"/>
<circle cx="390.9" cy="327.3" r="8.75"/>
<circle cx="413.4" cy="295.0" r="8.75"/>
<circle cx="441.8" cy="460.2" r="8.75"/>
<circle cx="500.7" cy="348.8" r="8.75"/>
<circle cx="363.3" cy="385.3" r="8.75"/>
<circle cx="403.8" cy="455.9" r="8.75"/>
<circle cx="365.6" cy="451.4" r="8.75"/>
<circle cx="354.9" cy="451.1" r="8.75"/>
<circle cx="413.1" cy="416.6" r="8.75"/>
<circle cx="450.8" cy="442.7" r="8.75"/>
<circle cx="415.5" cy="402.2" r="8.75"/>
<circle cx="392.6" cy="403.1" r="8.75"/>
<circle cx="429.5" cy="362.8" r="8.75"/>
<circle cx="386.8" cy="443.8" r="8.75"/>
<circle cx="448.7" cy="429.0" r="8.75"/>
<circle cx="447.6" cy="366.3" r="8.75"/>
<circle cx="499.7" cy="341.4" r="8.75"/>
<circle cx="420.8" cy="348.0" r="8.75"/>
<circle cx="389.4" cy="401.7" r="8.75"/>
<circle cx="496.6" cy="302.7" r="8.75"/>
<circle cx="424.7" cy="331.1" r="8.75"/>
<circle cx="385.8" cy="296.4" r="8.75"/>
<circle cx="332.7" cy="423.9" r="8.75"/>
<circle cx="385.7" cy="409.8" r="8.75"/>
<circle cx="445.7" cy="362.8" r="8.75"/>
<circle cx="403.6" cy="454.7" r="8.75"/>
<circle cx="417.3" cy="429.4" r="8.75"/>
<circle cx="380.0" cy="279.7" r="8.75"/>
<circle cx="444.5" cy="340.2" r="8.75"/>
<circle cx="363.7" cy="392.6" r="8.75"/>
<circle cx="420.2" cy="472.6" r="8.75"/>
<circle cx="450.1" cy="336.2" r="8.75"/>
<circle cx="475.6" cy="350.6" r="8.75"/>
<circle cx="467.2" cy="291.9" r="8.75"/>
<circle cx="442.9" cy="460.2" r="8.75"/>
<circle cx="448.2" cy="467.1" r="8.75"/>
<circle cx="402.3" cy="470.0" r="8.75"/>
<circle cx="455.7" cy="452.8" r="8.75"/>
<circle cx="377.9" cy="396.6" r="8.75"/>
<circle cx="395.9" cy="461.6" r="8.75"/>
<circle cx="415.7" cy="475.5" r="8.75"/>
<circle cx="449.2" cy="429.2" r="8.75"/>
<circle cx="388.6" cy="353.4" r="8.75"/>
<circle cx="394.9" cy="435.9" r="8.75"/>
<circle cx="384.0" cy="374.6" r="8.75"/>
<circle cx="398.9" cy="437.8" r="8.75"/>
<circle cx="399.1" cy="472.4" r="8.75"/>
<circle cx="406.9" cy="370.6" r="8.75"/>
<circle cx="421.8" cy="439.1" r="8.75"/>
<circle cx="411.8" cy="427.4" r="8.75"/>
<circle cx="407.3" cy="458.3" r="8.75"/>
<circle cx="450.3" cy="445.7" r="8.75"/>
<circle cx="441.9" cy="361.9" r="8.75"/>
<circle cx="413.0" cy="466.3" r="8.75"/>
<circle cx="397.3" cy="349.7" r="8.75"/>
<circle cx="487.6" cy="309.7" r="8.75"/>
<circle cx="434.7" cy="308.5" r="8.75"/>
<circle cx="436.1" cy="451.9" r="8.75"/>
<circle cx="439.8" cy="430.1" r="8.75"/>
<circle cx="485.4" cy="425.0" r="8.75"/>
<circle cx="425.0" cy="438.0" r="8.75"/>
<circle cx="451.2" cy="419.2" r="8.75"/>
<circle cx="453.4" cy="459.3" r="8.75"/>
<circle cx="445.8" cy="462.6" r="8.75"/>
<circle cx="408.0" cy="390.9" r="8.75"/>
<circle cx="427.1" cy="468.5" r="8.75"/>
<circle cx="404.2" cy="278.5" r="8.75"/>
<circle cx="343.8" cy="348.1" r="8.75"/>
<circle cx="408.8" cy="346.8" r="8.75"/>
<circle cx="454.4" cy="417.8" r="8.75"/>
<circle cx="446.1" cy="389.6" r="8.75"/>
<circle cx="376.7" cy="437.5" r="8.75"/>
<circle cx="398.9" cy="464.6" r="8.75"/>
<circle cx="419.3" cy="455.3" r="8.75"/>
<circle cx="407.6" cy="434.0" r="8.75"/>
<circle cx="409.9" cy="477.0" r="8.75"/>
<circle cx="442.9" cy="436.3" r="8.75"/>
<circle cx="411.8" cy="405.5" r="8.75"/>
<circle cx="359.8" cy="425.7" r="8.75"/>
<circle cx="350.8" cy="461.9" r="8.75"/>
<circle cx="400.4" cy="282.0" r="8.75"/>
<circle cx="376.6" cy="462.1" r="8.75"/>
<circle cx="462.1" cy="435.9" r="8.75"/>
<circle cx="464.6" cy="449.7" r="8.75"/>
<circle cx="456.8" cy="452.5" r="8.75"/>
<circle cx="394.0" cy="337.3" r="8.75"/>
<circle cx="446.2" cy="324.3" r="8.75"/>
<circle cx="426.0" cy="446.5" r="8.75"/>
<circle cx="387.6" cy="372.9" r="8.75"/>
<circle cx="452.6" cy="426.5" r="8.75"/>
<circle cx="395.9" cy="433.3" r="8.75"/>
<circle cx="374.2" cy="307.8" r="8.75"/>
<circle cx="421.5" cy="437.8" r="8.75"/>
<circle cx="383.1" cy="412.3" r="8.75"/>
<circle cx="432.7" cy="405.5" r="8.75"/>
<circle cx="380.8" cy="406.7" r="8.75"/>
<circle cx="454.1" cy="413.1" r="8.75"/>
<circle cx="385.2" cy="441.1" r="8.75"/>
<circle cx="407.8" cy="435.8" r="8.75"/>
<circle cx="461.4" cy="348.1" r="8.75"/>
<circle cx="502.1" cy="329.8" r="8.75"/>
<circle cx="384.5" cy="419.2" r="8.75"/>
<circle cx="493.9" cy="334.9" r="8.75"/>
<circle cx="393.0" cy="302.2" r="8.75"/>
<circle cx="390.0" cy="425.8" r="8.75"/>
<circle cx="426.4" cy="367.1" r="8.75"/>
<circle cx="398.1" cy="326.8" r="8.75"/>
<circle cx="449.1" cy="421.3" r="8.75"/>
<circle cx="439.6" cy="427.7" r="8.75"/>
<circle cx="466.9" cy="369.6" r="8.75"/>
<circle cx="392.7" cy="437.1" r="8.75"/>
<circle cx="450.6" cy="424.8" r="8.75"/>
<circle cx="479.4" cy="337.7" r="8.75"/>
<circle cx="396.9" cy="457.1" r="8.75"/>
<circle cx="445.2" cy="437.8" r="8.75"/>
<circle cx="414.7" cy="440.2" r="8.75"/>
<circle cx="483.0" cy="368.6" r="8.75"/>
<circle cx="430.4" cy="447.4" r="8.75"/>
<circle cx="378.4" cy="385.7" r="8.75"/>
<circle cx="449.0" cy="454.9" r="8.75"/>
<circle cx="437.6" cy="423.3" r="8.75"/>
<circle cx="395.0" cy="451.1" r="8.75"/>
<circle cx="373.3" cy="302.2" r="8.75"/>
<circle cx="376.7" cy="386.4" r="8.75"/>
<circle cx="501.3" cy="380.6" r="8.75"/>
<circle cx="412.0" cy="460.3" r="8.75"/>
<circle cx="428.9" cy="475.8" r="8.75"/>
<circle cx="426.0" cy="317.4" r="8.75"/>
<circle cx="450.1" cy="464.3" r="8.75"/>
<circle cx="470.3" cy="339.2" r="8.75"/>
<circle cx="419.9" cy="474.6" r="8.75"/>
<circle cx="450.9" cy="296.1" r="8.75"/>
<circle cx="403.3" cy="467.8" r="8.75"/>
<circle cx="504.7" cy="377.5" r="8.75"/>
<circle cx="480.6" cy="414.8" r="8.75"/>
<circle cx="423.5" cy="449.9" r="8.75"/>
<circle cx="415.4" cy="428.1" r="8.75"/>
<circle cx="439.9" cy="285.2" r="8.75"/>
<circle cx="401.1" cy="455.7" r="8.75"/>
<circle cx="394.0" cy="372.1" r="8.75"/>
<circle cx="403.0" cy="444.4" r="8.75"/>
<circle cx="336.8" cy="402.3" r="8.75"/>
<circle cx="396.9" cy="469.2" r="8.75"/>
<circle cx="395.2" cy="466.7" r="8.75"/>
<circle cx="406.8" cy="469.1" r="8.75"/>
<circle cx="384.1" cy="410.7" r="8.75"/>
<circle cx="362.9" cy="450.2" r="8.75"/>
<circle cx="436.9" cy="395.2" r="8.75"/>
<circle cx="422.6" cy="440.9" r="8.75"/>
<circle cx="447.8" cy="326.6" r="8.75"/>
<circle cx="401.4" cy="271.6" r="8.75"/>
<circle cx="450.9" cy="439.8" r="8.75"/>
<circle cx="437.3" cy="456.1" r="8.75"/>
<circle cx="443.4" cy="425.6" r="8.75"/>
<circle cx="453.7" cy="418.4" r="8.75"/>
<circle cx="378.4" cy="445.1" r="8.75"/>
<circle cx="382.1" cy="337.7" r="8.75"/>
<circle cx="407.7" cy="459.2" r="8.75"/>
<circle cx="434.5" cy="417.9" r="8.75"/>
<circle cx="413.2" cy="357.4" r="8.75"/>
<circle cx="414.7" cy="462.3" r="8.75"/>
<circle cx="514.1" cy="298.2" r="8.75"/>
<circle cx="365.2" cy="285.3" r="8.75"/>
<circle cx="394.3" cy="401.5" r="8.75"/>
<circle cx="401.2" cy="436.0" r="8.75"/>
<circle cx="457.0" cy="294.8" r="8.75"/>
<circle cx="370.1" cy="454.7" r="8.75"/>
<circle cx="390.4" cy="415.2" r="8.75"/>
<circle cx="385.5" cy="446.4" r="8.75"/>
<circle cx="436.2" cy="297.2" r="8.75"/>
<circle cx="397.5" cy="416.8" r="8.75"/>
<circle cx="495.2" cy="363.2" r="8.75"/>
<circle cx="456.7" cy="463.4" r="8.75"/>
<circle cx="446.7" cy="351.8" r="8.75"/>
<circle cx="473.1" cy="292.4" r="8.75"/>
<circle cx="403.2" cy="467.7" r="8.75"/>
<circle cx="417.0" cy="477.5" r="8.75"/>
<circle cx="363.2" cy="300.0" r="8.75"/>
<circle cx="407.1" cy="442.5" r="8.75"/>
<circle cx="442.4" cy="470.4" r="8.75"/>
<circle cx="402.8" cy="426.2" r="8.75"/>
<circle cx="360.6" cy="452.8" r="8.75"/>
<circle cx="407.7" cy="466.3" r="8.75"/>
<circle cx="364.1" cy="406.6" r="8.75"/>
<circle cx="464.8" cy="399.3" r="8.75"/>
<circle cx="437.3" cy="466.2" r="8.75"/>
<circle cx="332.8" cy="408.0" r="8.75"/>
<circle cx="429.3" cy="448.3" r="8.75"/>
<circle cx="376.1" cy="406.3" r="8.75"/>
<circle cx="399.9" cy="446.7" r="8.75"/>
<circle cx="447.5" cy="448.9" r="8.75"/>
<circle cx="455.0" cy="466.0" r="8.75"/>
<circle cx="401.0" cy="302.1" r="8.75"/>
<circle cx="398.7" cy="459.8" r="8.75"/>
<circle cx="419.8" cy="444.3" r="8.75"/>
<circle cx="466.7" cy="293.4" r="8.75"/>
<circle cx="426.7" cy="435.4" r="8.75"/>
<circle cx="464.8" cy="461.9" r="8.75"/>
<circle cx="386.7" cy="288.6" r="8.75"/>
<circle cx="387.3" cy="429.8" r="8.75"/>
<circle cx="437.0" cy="410.2" r="8.75"/>
<circle cx="415.4" cy="444.2" r="8.75"/>
<circle cx="457.2" cy="407.6" r="8.75"/>
<circle cx="336.1" cy="436.0" r="8.75"/>
<circle cx="435.5" cy="293.1" r="8.75"/>
<circle cx="423.9" cy="386.3" r="8.75"/>
<circle cx="371.8" cy="416.0" r="8.75"/>
<circle cx="446.1" cy="281.9" r="8.75"/>
<circle cx="428.7" cy="349.1" r="8.75"/>
<circle cx="400.8" cy="390.4" r="8.75"/>
<circle cx="413.7" cy="464.6" r="8.75"/>
<circle cx="424.9" cy="400.0" r="8.75"/>
<circle cx="371.9" cy="304.5" r="8.75"/>
<circle cx="404.6" cy="425.1" r="8.75"/>
<circle cx="425.3" cy="400.8" r="8.75"/>
<circle cx="446.8" cy="466.9" r="8.75"/>
<circle cx="413.8" cy="454.9" r="8.75"/>
<circle cx="465.7" cy="411.4" r="8.75"/>
<circle cx="382.6" cy="421.2" r="8.75"/>
<circle cx="376.9" cy="324.9" r="8.75"/>
<circle cx="356.5" cy="330.2" r="8.75"/>
<circle cx="422.3" cy="454.5" r="8.75"/>
<circle cx="455.0" cy="449.7" r="8.75"/>
<circle cx="370.5" cy="344.5" r="8.75"/>
<circle cx="345.7" cy="364.6" r="8.75"/>
<circle cx="447.3" cy="468.0" r="8.75"/>
<circle cx="476.9" cy="346.4" r="8.75"/>
<circle cx="440.3" cy="438.0" r="8.75"/>
<circle cx="361.2" cy="331.2" r="8.75"/>
<circle cx="401.7" cy="350.3" r="8.75"/>
<circle cx="428.5" cy="370.6" r="8.75"/>
<circle cx="443.7" cy="347.3" r="8.75"/>
<circle cx="473.5" cy="447.3" r="8.75"/>
<circle cx="452.9" cy="295.3" r="8.75"/>
<circle cx="437.4" cy="354.6" r="8.75"/>
<circle cx="437.9" cy="439.4" r="8.75"/>
<circle cx="449.2" cy="407.5" r="8.75"/>
<circle cx="422.2" cy="395.1" r="8.75"/>
<circle cx="356.7" cy="384.6" r="8.75"/>
<circle cx="417.7" cy="455.1" r="8.75"/>
<circle cx="403.8" cy="401.8" r="8.75"/>
<circle cx="452.6" cy="449.3" r="8.75"/>
<circle cx="444.9" cy="390.0" r="8.75"/>
<circle cx="395.8" cy="365.7" r="8.75"/>
<circle cx="495.7" cy="298.8" r="8.75"/>
<circle cx="458.5" cy="459.0" r="8.75"/>
<circle cx="380.7" cy="464.8" r="8.75"/>
<circle cx="357.6" cy="421.1" r="8.75"/>
<circle cx="468.0" cy="422.6" r="8.75"/>
<circle cx="449.2" cy="384.8" r="8.75"/>
<circle cx="369.6" cy="426.7" r="8.75"/>
<circle cx="403.9" cy="469.4" r="8.75"/>
<circle cx="414.9" cy="361.3" r="8.75"/>
<circle cx="484.6" cy="412.5" r="8.75"/>
<circle cx="457.5" cy="465.7" r="8.75"/>
<circle cx="456.4" cy="451.4" r="8.75"/>
<circle cx="463.4" cy="334.3" r="8.75"/>
<circle cx="385.0" cy="469.5" r="8.75"/>
<circle cx="397.6" cy="446.3" r="8.75"/>
<circle cx="446.7" cy="455.4" r="8.75"/>
<circle cx="333.2" cy="437.5" r="8.75"/>
<circle cx="391.8" cy="285.7" r="8.75"/>
<circle cx="429.5" cy="312.6" r="8.75"/>
<circle cx="465.7" cy="425.9" r="8.75"/>
<circle cx="435.5" cy="449.9" r="8.75"/>
<circle cx="459.2" cy="328.6" r="8.75"/>
<circle cx="391.7" cy="470.4" r="8.75"/>
<circle cx="428.0" cy="476.3" r="8.75"/>
<circle cx="419.0" cy="450.5" r="8.75"/>
<circle cx="436.9" cy="401.7" r="8.75"/>
<circle cx="429.8" cy="408.9" r="8.75"/>
<circle cx="400.9" cy="453.5" r="8.75"/>
<circle cx="404.7" cy="419.7" r="8.75"/>
<circle cx="440.5" cy="397.4" r="8.75"/>
<circle cx="374.4" cy="405.0" r="8.75"/>
<circle cx="421.7" cy="452.4" r="8.75"/>
<circle cx="445.2" cy="441.9" r="8.75"/>
<circle cx="398.3" cy="282.7" r="8.75"/>
<circle cx="385.2" cy="432.9" r="8.75"/>
<circle cx="417.6" cy="433.7" r="8.75"/>
<circle cx="382.9" cy="469.4" r="8.75"/>
<circle cx="356.9" cy="400.7" r="8.75"/>
<circle cx="425.4" cy="424.2" r="8.75"/>
<circle cx="350.6" cy="458.0" r="8.75"/>
<circle cx="405.6" cy="454.4" r="8.75"/>
<circle cx="452.2" cy="329.8" r="8.75"/>
<circle cx="489.2" cy="382.8" r="8.75"/>
<circle cx="438.6" cy="334.4" r="8.75"/>
<circle cx="456.0" cy="399.8" r="8.75"/>
<circle cx="368.2" cy="429.9" r="8.75"/>
<circle cx="374.7" cy="415.6" r="8.75"/>
<circle cx="364.1" cy="417.5" r="8.75"/>
<circle cx="434.5" cy="468.9" r="8.75"/>
<circle cx="433.0" cy="427.9" r="8.75"/>
<circle cx="501.6" cy="396.1" r="8.75"/>
<circle cx="437.3" cy="425.9" r="8.75"/>
<circle cx="404.9" cy="290.6" r="8.75"/>
<circle cx="401.1" cy="402.0" r="8.75"/>
<circle cx="401.5" cy="399.4" r="8.75"/>
<circle cx="416.9" cy="477.1" r="8.75"/>
<circle cx="397.8" cy="472.5" r="8.75"/>
<circle cx="370.6" cy="422.3" r="8.75"/>
<circle cx="398.5" cy="305.3" r="8.75"/>
<circle cx="364.1" cy="415.3" r="8.75"/>
<circle cx="429.5" cy="464.4" r="8.75"/>
<circle cx="389.8" cy="428.8" r="8.75"/>
<circle cx="456.8" cy="463.4" r="8.75"/>
<circle cx="399.9" cy="452.3" r="8.75"/>
<circle cx="478.1" cy="404.2" r="8.75"/>
<circle cx="358.6" cy="341.4" r="8.75"/>
<circle cx="384.8" cy="392.1" r="8.75"/>
<circle cx="416.8" cy="469.6" r="8.75"/>
<circle cx="397.1" cy="385.8" r="8.75"/>
<circle cx="433.8" cy="420.5" r="8.75"/>
<circle cx="399.3" cy="470.8" r="8.75"/>
<circle cx="442.4" cy="408.8" r="8.75"/>
<circle cx="422.1" cy="472.1" r="8.75"/>
<circle cx="400.2" cy="424.9" r="8.75"/>
<circle cx="383.9" cy="327.6" r="8.75"/>
<circle cx="379.6" cy="308.8" r="8.75"/>
<circle cx="426.0" cy="411.3" r="8.75"/>
<circle cx="406.0" cy="471.8" r="8.75"/>
<circle cx="436.6" cy="450.0" r="8.75"/>
<circle cx="413.5" cy="305.6" r="8.75"/>
<circle cx="484.7" cy="330.4" r="8.75"/>
<circle cx="389.9" cy="399.9" r="8.75"/>
<circle cx="368.8" cy="413.0" r="8.75"/>
<circle cx="352.7" cy="376.2" r="8.75"/>
<circle cx="445.9" cy="457.0" r="8.75"/>
<circle cx="430.6" cy="468.8" r="8.75"/>
<circle cx="447.1" cy="456.0" r="8.75"/>
<circle cx="406.6" cy="456.6" r="8.75"/>
<circle cx="470.7" cy="454.9" r="8.75"/>
<circle cx="413.5" cy="457.1" r="8.75"/>
<circle cx="447.3" cy="463.1" r="8.75"/>
<circle cx="409.6" cy="461.1" r="8.75"/>
<circle cx="476.9" cy="328.7" r="8.75"/>
<circle cx="408.6" cy="452.1" r="8.75"/>
<circle cx="395.3" cy="425.6" r="8.75"/>
<circle cx="399.7" cy="371.4" r="8.75"/>
<circle cx="374.2" cy="452.7" r="8.75"/>
<circle cx="428.7" cy="416.4" r="8.75"/>
<circle cx="420.8" cy="427.7" r="8.75"/>
<circle cx="407.4" cy="412.1" r="8.75"/>
<circle cx="433.3" cy="424.4" r="8.75"/>
<circle cx="423.4" cy="423.0" r="8.75"/>
<circle cx="488.7" cy="355.3" r="8.75"/>
<circle cx="436.5" cy="326.6" r="8.75"/>
<circle cx="376.7" cy="423.1" r="8.75"/>
<circle cx="362.6" cy="312.3" r="8.75"/>
<circle cx="389.3" cy="274.6" r="8.75"/>
<circle cx="437.7" cy="465.9" r="8.75"/>
<circle cx="442.3" cy="454.3" r="8.75"/>
<circle cx="425.5" cy="305.5" r="8.75"/>
<circle cx="418.7" cy="410.1" r="8.75"/>
<circle cx="405.4" cy="472.3" r="8.75"/>
<circle cx="424.4" cy="424.9" r="8.75"/>
<circle cx="386.3" cy="371.3" r="8.75"/>
<circle cx="379.3" cy="325.9" r="8.75"/>
<circle cx="456.3" cy="452.6" r="8.75"/>
<circle cx="440.4" cy="444.9" r="8.75"/>
<circle cx="435.2" cy="347.8" r="8.75"/>
<circle cx="395.5" cy="438.5" r="8.75"/>
<circle cx="485.4" cy="421.3" r="8.75"/>
<circle cx="341.5" cy="439.6" r="8.75"/>
<circle cx="427.4" cy="448.7" r="8.75"/>
<circle cx="421.3" cy="317.1" r="8.75"/>
<circle cx="413.8" cy="390.4" r="8.75"/>
<circle cx="390.5" cy="445.6" r="8.75"/>
<circle cx="365.2" cy="445.9" r="8.75"/>
<circle cx="391.4" cy="451.6" r="8.75"/>
<circle cx="402.6" cy="443.4" r="8.75"/>
<circle cx="417.1" cy="306.8" r="8.75"/>
<circle cx="367.7" cy="429.0" r="8.75"/>
<circle cx="428.2" cy="400.1" r="8.75"/>
<circle cx="439.9" cy="440.8" r="8.75"/>
<circle cx="432.1" cy="474.8" r="8.75"/>
<circle cx="420.2" cy="456.3" r="8.75"/>
<circle cx="415.2" cy="444.7" r="8.75"/>
<circle cx="417.7" cy="473.6" r="8.75"/>
<circle cx="418.1" cy="384.0" r="8.75"/>
<circle cx="440.9" cy="446.9" r="8.75"/>
<circle cx="421.7" cy="479.3" r="8.75"/>
<circle cx="402.6" cy="454.4" r="8.75"/>
<circle cx="424.1" cy="453.3" r="8.75"/>
<circle cx="411.0" cy="469.3" r="8.75"/>
<circle cx="417.4" cy="392.3" r="8.75"/>
<circle cx="423.7" cy="460.8" r="8.75"/>
<circle cx="387.1" cy="431.1" r="8.75"/>
<circle cx="448.3" cy="338.7" r="8.75"/>
<circle cx="503.7" cy="384.3" r="8.75"/>
<circle cx="393.9" cy="385.6" r="8.75"/>
<circle cx="482.4" cy="306.0" r="8.75"/>
<circle cx="505.6" cy="318.6" r="8.75"/>
<circle cx="392.3" cy="407.8" r="8.75"/>
<circle cx="396.6" cy="428.9" r="8.75"/>
<circle cx="403.9" cy="307.8" r="8.75"/>
<circle cx="383.9" cy="463.4" r="8.75"/>
<circle cx="423.4" cy="437.9" r="8.75"/>
<circle cx="403.9" cy="435.3" r="8.75"/>
<circle cx="417.7" cy="478.1" r="8.75"/>
<circle cx="411.7" cy="438.6" r="8.75"/>
<circle cx="497.6" cy="354.3" r="8.75"/>
<circle cx="380.1" cy="406.1" r="8.75"/>
<circle cx="450.4" cy="463.4" r="8.75"/>
<circle cx="370.5" cy="338.1" r="8.75"/>
<circle cx="416.9" cy="440.6" r="8.75"/>
<circle cx="427.0" cy="471.9" r="8.75"/>
<circle cx="371.4" cy="461.6" r="8.75"/>
<circle cx="397.1" cy="452.5" r="8.75"/>
<circle cx="377.2" cy="376.8" r="8.75"/>
<circle cx="397.8" cy="425.8" r="8.75"/>
<circle cx="410.3" cy="408.5" r="8.75"/>
<circle cx="481.5" cy="412.2" r="8.75"/>
<circle cx="408.2" cy="439.8" r="8.75"/>
<circle cx="405.1" cy="431.8" r="8.75"/>
<circle cx="414.1" cy="406.7" r="8.75"/>
<circle cx="409.6" cy="447.8" r="8.75"/>
<circle cx="449.0" cy="412.8" r="8.75"/>
<circle cx="383.4" cy="433.3" r="8.75"/>
<circle cx="468.0" cy="331.1" r="8.75"/>
<circle cx="394.7" cy="449.9" r="8.75"/>
<circle cx="370.6" cy="341.9" r="8.75"/>
<circle cx="425.7" cy="458.8" r="8.75"/>
<circle cx="391.1" cy="469.6" r="8.75"/>
<circle cx="408.8" cy="442.9" r="8.75"/>
<circle cx="380.3" cy="272.3" r="8.75"/>
<circle cx="439.3" cy="462.1" r="8.75"/>
<circle cx="373.8" cy="433.2" r="8.75"/>
<circle cx="401.2" cy="447.7" r="8.75"/>
<circle cx="429.2" cy="472.3" r="8.75"/>
<circle cx="454.7" cy="439.4" r="8.75"/>
<circle cx="386.0" cy="449.4" r="8.75"/>
<circle cx="498.9" cy="382.5" r="8.75"/>
<circle cx="397.0" cy="366.2" r="8.75"/>
<circle cx="369.2" cy="353.2" r="8.75"/>
<circle cx="381.7" cy="439.8" r="8.75"/>
<circle cx="455.3" cy="453.7" r="8.75"/>
<circle cx="454.0" cy="429.8" r="8.75"/>
<circle cx="379.8" cy="280.4" r="8.75"/>
<circle cx="447.9" cy="430.6" r="8.75"/>
<circle cx="427.1" cy="417.8" r="8.75"/>
<circle cx="425.5" cy="379.9" r="8.75"/>
<circle cx="419.2" cy="387.4" r="8.75"/>
<circle cx="391.5" cy="418.5" r="8.75"/>
<circle cx="416.5" cy="365.1" r="8.75"/>
<circle cx="448.5" cy="435.5" r="8.75"/>
<circle cx="413.4" cy="402.8" r="8.75"/>
<circle cx="443.7" cy="439.7" r="8.75"/>
<circle cx="435.5" cy="314.6" r="8.75"/>
<circle cx="378.5" cy="321.7" r="8.75"/>
<circle cx="405.6" cy="452.6" r="8.75"/>
<circle cx="393.7" cy="285.8" r="8.75"/>
<circle cx="407.8" cy="357.3" r="8.75"/>
<circle cx="439.6" cy="461.6" r="8.75"/>
<circle cx="335.3" cy="402.2" r="8.75"/>
<circle cx="393.7" cy="462.0" r="8.75"/>
<circle cx="430.1" cy="340.5" r="8.75"/>
<circle cx="456.8" cy="292.7" r="8.75"/>
<circle cx="488.7" cy="304.3" r="8.75"/>
<circle cx="380.1" cy="427.7" r="8.75"/>
<circle cx="404.1" cy="449.9" r="8.75"/>
<circle cx="338.8" cy="412.8" r="8.75"/>
<circle cx="410.6" cy="395.7" r="8.75"/>
<circle cx="401.6" cy="399.8" r="8.75"/>
<circle cx="454.1" cy="427.2" r="8.75"/>
<circle cx="427.3" cy="458.2" r="8.75"/>
<circle cx="414.6" cy="391.6" r="8.75"/>
<circle cx="440.5" cy="467.3" r="8.75"/>
<circle cx="370.4" cy="460.6" r="8.75"/>
<circle cx="420.9" cy="461.3" r="8.75"/>
<circle cx="468.1" cy="431.9" r="8.75"/>
<circle cx="432.9" cy="403.1" r="8.75"/>
<circle cx="410.6" cy="415.5" r="8.75"/>
<circle cx="402.1" cy="466.3" r="8.75"/>
<circle cx="374.1" cy="398.8" r="8.75"/>
<circle cx="393.3" cy="361.5" r="8.75"/>
<circle cx="362.4" cy="295.5" r="8.75"/>
<circle cx="334.8" cy="421.7" r="8.75"/>
<circle cx="371.9" cy="371.6" r="8.75"/>
<circle cx="494.9" cy="332.5" r="8.75"/>
<circle cx="391.0" cy="445.1" r="8.75"/>
<circle cx="455.1" cy="337.3" r="8.75"/>
<circle cx="442.2" cy="297.4" r="8.75"/>
<circle cx="345.7" cy="444.8" r="8.75"/>
<circle cx="438.9" cy="384.8" r="8.75"/>
<circle cx="421.3" cy="477.0" r="8.75"/>
<circle cx="387.7" cy="423.4" r="8.75"/>
<circle cx="414.8" cy="463.9" r="8.75"/>
<circle cx="342.6" cy="409.1" r="8.75"/>
<circle cx="446.0" cy="395.0" r="8.75"/>
<circle cx="379.6" cy="407.4" r="8.75"/>
<circle cx="409.9" cy="361.6" r="8.75"/>
<circle cx="418.2" cy="466.4" r="8.75"/>
<circle cx="438.8" cy="456.4" r="8.75"/>
<circle cx="422.3" cy="455.6" r="8.75"/>
<circle cx="384.3" cy="277.2" r="8.75"/>
<circle cx="408.2" cy="437.8" r="8.75"/>
<circle cx="435.8" cy="393.7" r="8.75"/>
<circle cx="374.2" cy="463.4" r="8.75"/>
<circle cx="439.2" cy="392.2" r="8.75"/>
<circle cx="451.0" cy="425.0" r="8.75"/>
<circle cx="449.6" cy="314.4" r="8.75"/>
<circle cx="452.9" cy="313.5" r="8.75"/>
<circle cx="358.9" cy="384.1" r="8.75"/>
<circle cx="395.9" cy="267.7" r="8.75"/>
<circle cx="425.7" cy="339.1" r="8.75"/>
<circle cx="462.0" cy="433.7" r="8.75"/>
<circle cx="375.5" cy="399.9" r="8.75"/>
<circle cx="404.6" cy="365.7" r="8.75"/>
<circle cx="508.4" cy="361.6" r="8.75"/>
<circle cx="439.7" cy="395.0" r="8.75"/>
<circle cx="406.9" cy="283.7" r="8.75"/>
<circle cx="342.1" cy="433.4" r="8.75"/>
<circle cx="447.6" cy="404.4" r="8.75"/>
<circle cx="422.7" cy="466.3" r="8.75"/>
<circle cx="426.5" cy="330.8" r="8.75"/>
<circle cx="430.4" cy="464.7" r="8.75"/>
<circle cx="447.1" cy="396.7" r="8.75"/>
<circle cx="380.2" cy="395.4" r="8.75"/>
<circle cx="417.0" cy="463.1" r="8.75"/>
<circle cx="473.9" cy="423.3" r="8.75"/>
<circle cx="443.4" cy="316.3" r="8.75"/>
<circle cx="427.8" cy="462.3" r="8.75"/>
<circle cx="422.8" cy="357.0" r="8.75"/>
<circle cx="393.7" cy="395.3" r="8.75"/>
<circle cx="426.6" cy="462.1" r="8.75"/>
<circle cx="400.8" cy="433.4" r="8.75"/>
<circle cx="417.9" cy="372.4" r="8.75"/>
<circle cx="342.2" cy="447.2" r="8.75"/>
<circle cx="470.5" cy="302.3" r="8.75"/>
<circle cx="467.8" cy="432.6" r="8.75"/>
<circle cx="384.6" cy="387.9" r="8.75"/>
<circle cx="448.8" cy="424.4" r="8.75"/>
<circle cx="407.2" cy="347.7" r="8.75"/>
<circle cx="358.6" cy="432.8" r="8.75"/>
<circle cx="443.3" cy="395.9" r="8.75"/>
<circle cx="360.2" cy="370.3" r="8.75"/>
<circle cx="424.9" cy="412.9" r="8.75"/>
<circle cx="433.9" cy="382.6" r="8.75"/>
<circle cx="429.9" cy="435.5" r="8.75"/>
<circle cx="345.5" cy="438.2" r="8.75"/>
<circle cx="399.9" cy="455.8" r="8.75"/>
<circle cx="389.5" cy="299.7" r="8.75"/>
<circle cx="422.9" cy="460.6" r="8.75"/>
<circle cx="401.2" cy="363.3" r="8.75"/>
<circle cx="441.8" cy="426.9" r="8.75"/>
<circle cx="394.7" cy="423.6" r="8.75"/>
<circle cx="448.8" cy="464.5" r="8.75"/>
<circle cx="373.5" cy="456.2" r="8.75"/>
<circle cx="356.4" cy="423.7" r="8.75"/>
<circle cx="454.7" cy="445.2" r="8.75"/>
<circle cx="398.6" cy="437.2" r="8.75"/>
<circle cx="401.9" cy="424.5" r="8.75"/>
<circle cx="390.6" cy="473.0" r="8.75"/>
<circle cx="445.0" cy="431.6" r="8.75"/>
<circle cx="438.1" cy="469.4" r="8.75"/>
<circle cx="403.2" cy="469.3" r="8.75"/>
<circle cx="411.4" cy="464.9" r="8.75"/>
<circle cx="385.9" cy="269.3" r="8.75"/>
<circle cx="460.2" cy="348.6" r="8.75"/>
<circle cx="460.9" cy="425.1" r="8.75"/>
<circle cx="427.8" cy="461.2" r="8.75"/>
<circle cx="470.9" cy="441.1" r="8.75"/>
<circle cx="400.2" cy="431.4" r="8.75"/>
<circle cx="368.2" cy="418.0" r="8.75"/>
<circle cx="382.4" cy="441.5" r="8.75"/>
<circle cx="474.6" cy="379.7" r="8.75"/>
<circle cx="414.4" cy="467.9" r="8.75"/>
<circle cx="421.3" cy="348.7" r="8.75"/>
<circle cx="364.6" cy="453.2" r="8.75"/>
<circle cx="410.3" cy="412.0" r="8.75"/>
<circle cx="385.4" cy="455.5" r="8.75"/>
<circle cx="410.4" cy="461.9" r="8.75"/>
<circle cx="406.9" cy="467.6" r="8.75"/>
<circle cx="339.3" cy="393.7" r="8.75"/>
<circle cx="400.2" cy="393.5" r="8.75"/>
<circle cx="417.2" cy="434.3" r="8.75"/>
<circle cx="361.3" cy="437.0" r="8.75"/>
<circle cx="394.7" cy="326.2" r="8.75"/>
<circle cx="466.0" cy="293.2" r="8.75"/>
<circle cx="400.8" cy="397.3" r="8.75"/>
<circle cx="413.6" cy="453.9" r="8.75"/>
<circle cx="435.6" cy="464.5" r="8.75"/>
<circle cx="412.7" cy="456.4" r="8.75"/>
<circle cx="382.3" cy="323.5" r="8.75"/>
<circle cx="344.8" cy="437.9" r="8.75"/>
<circle cx="415.5" cy="467.0" r="8.75"/>
<circle cx="384.7" cy="388.9" r="8.75"/>
<circle cx="427.9" cy="461.8" r="8.75"/>
<circle cx="430.8" cy="462.5" r="8.75"/>
<circle cx="385.5" cy="279.7" r="8.75"/>
<circle cx="371.6" cy="457.3" r="8.75"/>
<circle cx="433.0" cy="332.6" r="8.75"/>
<circle cx="352.1" cy="397.2" r="8.75"/>
<circle cx="396.8" cy="300.7" r="8.75"/>
<circle cx="428.1" cy="416.8" r="8.75"/>
<circle cx="394.2" cy="444.6" r="8.75"/>
<circle cx="389.8" cy="468.1" r="8.75"/>
<circle cx="433.2" cy="285.6" r="8.75"/>
<circle cx="373.2" cy="280.5" r="8.75"/>
<circle cx="400.8" cy="327.3" r="8.75"/>
<circle cx="420.7" cy="479.2" r="8.75"/>
<circle cx="401.6" cy="412.5" r="8.75"/>
<circle cx="453.1" cy="409.1" r="8.75"/>
<circle cx="402.6" cy="469.1" r="8.75"/>
<circle cx="431.7" cy="451.0" r="8.75"/>
<circle cx="396.6" cy="258.7" r="8.75"/>
<circle cx="363.5" cy="416.0" r="8.75"/>
<circle cx="433.8" cy="444.0" r="8.75"/>
<circle cx="404.2" cy="455.9" r="8.75"/>
<circle cx="413.6" cy="466.4" r="8.75"/>
<circle cx="408.6" cy="385.2" r="8.75"/>
<circle cx="438.2" cy="437.3" r="8.75"/>
<circle cx="424.5" cy="443.1" r="8.75"/>
<circle cx="430.7" cy="461.8" r="8.75"/>
<circle cx="424.9" cy="385.7" r="8.75"/>
<circle cx="434.6" cy="409.8" r="8.75"/>
<circle cx="398.1" cy="426.3" r="8.75"/>
<circle cx="373.9" cy="452.7" r="8.75"/>
<circle cx="427.4" cy="478.3" r="8.75"/>
<circle cx="391.8" cy="437.2" r="8.75"/>
<circle cx="347.0" cy="411.8" r="8.75"/>
<circle cx="355.3" cy="440.1" r="8.75"/>
<circle cx="424.7" cy="458.8" r="8.75"/>
<circle cx="417.4" cy="477.7" r="8.75"/>
<circle cx="361.0" cy="347.1" r="8.75"/>
<circle cx="466.2" cy="386.7" r="8.75"/>
<circle cx="396.7" cy="417.8" r="8.75"/>
<circle cx="443.6" cy="423.6" r="8.75"/>
<circle cx="425.0" cy="454.1" r="8.75"/>
<circle cx="413.0" cy="457.7" r="8.75"/>
<circle cx="420.5" cy="464.9" r="8.75"/>
<circle cx="341.3" cy="443.6" r="8.75"/>
<circle cx="442.7" cy="378.0" r="8.75"/>
<circle cx="442.8" cy="401.3" r="8.75"/>
<circle cx="421.9" cy="469.9" r="8.75"/>
<circle cx="405.9" cy="476.7" r="8.75"/>
<circle cx="419.3" cy="476.5" r="8.75"/>
<circle cx="418.9" cy="479.2" r="8.75"/>
<circle cx="413.0" cy="471.4" r="8.75"/>
<circle cx="430.8" cy="468.2" r="8.75"/>
<circle cx="389.3" cy="472.0" r="8.75"/>
<circle cx="407.4" cy="476.6" r="8.75"/>
<circle cx="398.5" cy="475.1" r="8.75"/>
<circle cx="413.5" cy="478.1" r="8.75"/>
<circle cx="422.7" cy="464.5" r="8.75"/>
<circle cx="428.3" cy="470.3" r="8.75"/>
<circle cx="410.0" cy="476.5" r="8.75"/>
<circle cx="413.6" cy="474.5" r="8.75"/>
<circle cx="419.7" cy="479.3" r="8.75"/>
<circle cx="419.4" cy="475.4" r="8.75"/>
<circle cx="421.7" cy="470.2" r="8.75"/>
<circle cx="410.5" cy="477.2" r="8.75"/>
<circle cx="397.8" cy="471.5" r="8.75"/>
<circle cx="422.5" cy="472.8" r="8.75"/>
<circle cx="430.9" cy="475.7" r="8.75"/>
<circle cx="397.2" cy="468.8" r="8.75"/>
<circle cx="422.5" cy="477.2" r="8.75"/>
<circle cx="424.7" cy="469.1" r="8.75"/>
<circle cx="413.0" cy="475.5" r="8.75"/>
<circle cx="407.4" cy="475.7" r="8.75"/>
<circle cx="410.5" cy="478.5" r="8.75"/>
<circle cx="417.1" cy="467.2" r="8.75"/>
<circle cx="402.0" cy="473.6" r="8.75"/>
<circle cx="426.8" cy="471.0" r="8.75"/>
<circle cx="414.8" cy="467.4" r="8.75"/>
<circle cx="424.2" cy="461.0" r="8.75"/>
<circle cx="411.7" cy="470.9" r="8.75"/>
<circle cx="416.9" cy="476.1" r="8.75"/>
<circle cx="408.5" cy="475.1" r="8.75"/>
<circle cx="416.9" cy="477.6" r="8.75"/>
<circle cx="405.2" cy="477.7" r="8.75"/>
<circle cx="418.0" cy="475.0" r="8.75"/>
<circle cx="424.8" cy="468.4" r="8.75"/>
<circle cx="418.0" cy="477.8" r="8.75"/>
<circle cx="429.3" cy="473.1" r="8.75"/>
<circle cx="407.6" cy="471.8" r="8.75"/>
<circle cx="433.3" cy="472.1" r="8.75"/>
<circle cx="403.5" cy="476.6" r="8.75"/>
<circle cx="404.7" cy="470.0" r="8.75"/>
<circle cx="418.1" cy="468.1" r="8.75"/>
<circle cx="416.0" cy="475.2" r="8.75"/>
<circle cx="414.0" cy="478.4" r="8.75"/>
<circle cx="412.9" cy="480.0" r="8.75"/>
<circle cx="416.1" cy="476.4" r="8.75"/>
<circle cx="417.4" cy="479.2" r="8.75"/>
<circle cx="413.6" cy="477.3" r="8.75"/>
<circle cx="404.1" cy="477.3" r="8.75"/>
<circle cx="422.0" cy="464.8" r="8.75"/>
<circle cx="408.8" cy="472.1" r="8.75"/>
<circle cx="422.9" cy="474.5" r="8.75"/>
<circle cx="427.1" cy="471.7" r="8.75"/>
<circle cx="406.3" cy="468.0" r="8.75"/>
<circle cx="409.8" cy="479.0" r="8.75"/>
<circle cx="398.0" cy="471.1" r="8.75"/>
<circle cx="402.6" cy="477.5" r="8.75"/>
<circle cx="396.2" cy="470.3" r="8.75"/>
<circle cx="410.5" cy="477.0" r="8.75"/>
<circle cx="407.8" cy="475.4" r="8.75"/>
<circle cx="428.9" cy="474.6" r="8.75"/>
<circle cx="429.7" cy="467.3" r="8.75"/>
<circle cx="427.0" cy="475.7" r="8.75"/>
<circle cx="399.5" cy="473.5" r="8.75"/>
<circle cx="410.0" cy="479.2" r="8.75"/>
<circle cx="395.7" cy="474.7" r="8.75"/>
<circle cx="416.3" cy="475.0" r="8.75"/>
<circle cx="416.9" cy="470.6" r="8.75"/>
<circle cx="416.2" cy="476.5" r="8.75"/>
<circle cx="437.2" cy="462.1" r="8.75"/>
<circle cx="405.1" cy="476.6" r="8.75"/>
<circle cx="408.2" cy="466.5" r="8.75"/>
<circle cx="416.5" cy="475.6" r="8.75"/>
<circle cx="406.3" cy="470.7" r="8.75"/>
<circle cx="418.9" cy="472.8" r="8.75"/>
<circle cx="399.1" cy="477.3" r="8.75"/>
<circle cx="429.6" cy="465.0" r="8.75"/>
<circle cx="426.8" cy="477.5" r="8.75"/>
<circle cx="415.8" cy="477.0" r="8.75"/>
<circle cx="424.7" cy="474.1" r="8.75"/>
<circle cx="415.2" cy="468.7" r="8.75"/>
<circle cx="399.3" cy="467.0" r="8.75"/>
<circle cx="414.6" cy="479.7" r="8.75"/>
<circle cx="392.6" cy="475.3" r="8.75"/>
<circle cx="434.2" cy="466.7" r="8.75"/>
<circle cx="390.8" cy="474.0" r="8.75"/>
<circle cx="408.8" cy="478.8" r="8.75"/>
<circle cx="401.7" cy="470.1" r="8.75"/>
<circle cx="401.9" cy="474.3" r="8.75"/>
<circle cx="413.5" cy="476.4" r="8.75"/>
<circle cx="403.5" cy="475.1" r="8.75"/>
<circle cx="409.7" cy="479.7" r="8.75"/>
<circle cx="423.1" cy="478.4" r="8.75"/>
<circle cx="410.6" cy="470.8" r="8.75"/>
<circle cx="414.6" cy="476.4" r="8.75"/>
<circle cx="407.8" cy="479.3" r="8.75"/>
<circle cx="396.7" cy="468.8" r="8.75"/>
<circle cx="417.9" cy="472.4" r="8.75"/>
<circle cx="411.0" cy="470.8" r="8.75"/>
<circle cx="410.3" cy="471.2" r="8.75"/>
<circle cx="411.3" cy="469.4" r="8.75"/>
<circle cx="416.9" cy="479.4" r="8.75"/>
<circle cx="424.2" cy="476.1" r="8.75"/>
<circle cx="417.3" cy="479.0" r="8.75"/>
<circle cx="418.4" cy="471.3" r="8.75"/>
<circle cx="421.0" cy="474.0" r="8.75"/>
<circle cx="391.6" cy="459.2" r="8.75"/>
<circle cx="405.2" cy="470.2" r="8.75"/>
<circle cx="414.2" cy="477.1" r="8.75"/>
<circle cx="419.4" cy="474.4" r="8.75"/>
<circle cx="407.7" cy="476.3" r="8.75"/>
<circle cx="417.7" cy="476.5" r="8.75"/>
<circle cx="419.6" cy="477.6" r="8.75"/>
<circle cx="409.2" cy="473.6" r="8.75"/>
<circle cx="418.6" cy="473.6" r="8.75"/>
<circle cx="389.0" cy="468.5" r="8.75"/>
<circle cx="390.0" cy="473.5" r="8.75"/>
<circle cx="407.5" cy="478.9" r="8.75"/>
<circle cx="409.3" cy="478.3" r="8.75"/>
<circle cx="415.9" cy="478.6" r="8.75"/>
<circle cx="406.1" cy="464.3" r="8.75"/>
<circle cx="406.3" cy="476.1" r="8.75"/>
<circle cx="405.7" cy="476.6" r="8.75"/>
<circle cx="410.4" cy="474.9" r="8.75"/>
<circle cx="425.5" cy="468.1" r="8.75"/>
<circle cx="413.0" cy="480.9" r="8.75"/>
<circle cx="423.4" cy="470.6" r="8.75"/>
<circle cx="405.4" cy="472.4" r="8.75"/>
<circle cx="422.9" cy="475.7" r="8.75"/>
<circle cx="406.3" cy="477.2" r="8.75"/>
<circle cx="400.1" cy="474.6" r="8.75"/>
<circle cx="411.7" cy="466.2" r="8.75"/>
<circle cx="419.8" cy="475.0" r="8.75"/>
<circle cx="424.5" cy="469.7" r="8.75"/>
<circle cx="401.3" cy="473.1" r="8.75"/>
<circle cx="401.1" cy="465.7" r="8.75"/>
<circle cx="317.1" cy="384.3" r="8.75"/>
<circle cx="370.0" cy="239.0" r="8.75"/>
<circle cx="371.6" cy="229.3" r="8.75"/>
<circle cx="390.2" cy="239.8" r="8.75"/>
<circle cx="388.6" cy="242.4" r="8.75"/>
<circle cx="372.4" cy="253.6" r="8.75"/>
<circle cx="376.5" cy="243.1" r="8.75"/>
<circle cx="380.5" cy="217.2" r="8.75"/>
<circle cx="381.8" cy="234.2" r="8.75"/>
<circle cx="405.1" cy="231.7" r="8.75"/>
<circle cx="384.6" cy="258.5" r="8.75"/>
<circle cx="399.1" cy="256.9" r="8.75"/>
<circle cx="391.0" cy="269.0" r="8.75"/>
<circle cx="364.3" cy="269.8" r="8.75"/>
<circle cx="348.9" cy="268.2" r="8.75"/>
<circle cx="373.2" cy="266.6" r="8.75"/>
<circle cx="385.4" cy="271.4" r="8.75"/>
<circle cx="403.2" cy="273.9" r="8.75"/>
<circle cx="375.5" cy="284.6" r="8.75"/>
<circle cx="465.6" cy="241.5" r="8.75"/>
<circle cx="452.6" cy="259.3" r="8.75"/>
<circle cx="447.8" cy="252.0" r="8.75"/>
<circle cx="455.1" cy="220.4" r="8.75"/>
<circle cx="459.9" cy="233.4" r="8.75"/>
<circle cx="441.8" cy="241.9" r="8.75"/>
<circle cx="435.6" cy="273.0" r="8.75"/>
<circle cx="433.2" cy="280.4" r="8.75"/>
<circle cx="442.9" cy="277.9" r="8.75"/>
<circle cx="442.9" cy="270.6" r="8.75"/>
<circle cx="453.4" cy="277.9" r="8.75"/>
<circle cx="387.0" cy="112.1" r="8.75"/>
<circle cx="385.1" cy="143.4" r="8.75"/>
<circle cx="386.6" cy="153.8" r="8.75"/>
<circle cx="368.5" cy="189.6" r="8.75"/>
<circle cx="393.3" cy="187.5" r="8.75"/>
<circle cx="355.3" cy="295.0" r="8.75"/>
<circle cx="374.5" cy="294.5" r="8.75"/>
<circle cx="388.5" cy="297.6" r="8.75"/>
<circle cx="357.8" cy="306.0" r="8.75"/>
<circle cx="362.9" cy="316.3" r="8.75"/>
<circle cx="382.1" cy="323.7" r="8.75"/>
<circle cx="400.6" cy="324.0" r="8.75"/>
<circle cx="390.3" cy="339.8" r="8.75"/>
<circle cx="369.3" cy="341.9" r="8.75"/>
<circle cx="343.0" cy="345.5" r="8.75"/>
<circle cx="379.6" cy="354.4" r="8.75"/>
<circle cx="352.7" cy="357.7" r="8.75"/>
<circle cx="338.6" cy="369.3" r="8.75"/>
<circle cx="304.1" cy="379.5" r="8.75"/>
<circle cx="321.2" cy="378.7" r="8.75"/>
<circle cx="421.8" cy="297.6" r="8.75"/>
<circle cx="432.0" cy="328.3" r="8.75"/>
<circle cx="407.7" cy="377.0" r="8.75"/>
<circle cx="433.3" cy="360.3" r="8.75"/>
<circle cx="514.7" cy="298.4" r="8.75"/>
<circle cx="501.9" cy="293.7" r="8.75"/>
<circle cx="548.0" cy="333.4" r="8.75"/>
<circle cx="529.5" cy="350.6" r="8.75"/>
<circle cx="510.9" cy="310.4" r="8.75"/>
<circle cx="496.8" cy="307.8" r="8.75"/>
<circle cx="492.4" cy="322.4" r="8.75"/>
<circle cx="477.6" cy="319.3" r="8.75"/>
<circle cx="483.5" cy="344.2" r="8.75"/>
<circle cx="501.9" cy="334.2" r="8.75"/>
<circle cx="508.3" cy="352.6" r="8.75"/>
<circle cx="475.8" cy="362.9" r="8.75"/>
<circle cx="501.9" cy="356.5" r="8.75"/>
<circle cx="515.2" cy="367.5" r="8.75"/>
<circle cx="503.2" cy="376.9" r="8.75"/>
<circle cx="487.8" cy="374.4" r="8.75"/>
<circle cx="445.6" cy="288.6" r="8.75"/>
<circle cx="430.2" cy="324.5" r="8.75"/>
<circle cx="444.3" cy="337.3" r="8.75"/>
<circle cx="431.5" cy="360.3" r="8.75"/>
<circle cx="458.4" cy="359.8" r="8.75"/>
<circle cx="469.9" cy="295.0" r="8.75"/>
<circle cx="454.6" cy="306.5" r="8.75"/>
<circle cx="466.0" cy="318.0" r="8.75"/>
<circle cx="452.0" cy="325.7" r="8.75"/>
<circle cx="461.0" cy="373.0" r="8.75"/>
<circle cx="441.8" cy="379.5" r="8.75"/>
<circle cx="335.0" cy="397.1" r="8.75"/>
<circle cx="355.5" cy="392.8" r="8.75"/>
<circle cx="331.2" cy="412.5" r="8.75"/>
<circle cx="352.2" cy="418.9" r="8.75"/>
<circle cx="318.4" cy="427.8" r="8.75"/>
<circle cx="328.1" cy="434.2" r="8.75"/>
<circle cx="310.7" cy="438.1" r="8.75"/>
<circle cx="298.4" cy="443.2" r="8.75"/>
<circle cx="304.3" cy="456.7" r="8.75"/>
<circle cx="310.2" cy="467.0" r="8.75"/>
<circle cx="351.2" cy="433.7" r="8.75"/>
<circle cx="376.7" cy="432.9" r="8.75"/>
<circle cx="390.6" cy="440.6" r="8.75"/>
<circle cx="368.3" cy="445.7" r="8.75"/>
<circle cx="338.9" cy="457.3" r="8.75"/>
<circle cx="346.0" cy="464.4" r="8.75"/>
<circle cx="361.9" cy="461.1" r="8.75"/>
<circle cx="381.1" cy="472.6" r="8.75"/>
<circle cx="381.1" cy="461.1" r="8.75"/>
<circle cx="400.3" cy="471.3" r="8.75"/>
<circle cx="411.8" cy="461.1" r="8.75"/>
<circle cx="416.9" cy="434.2" r="8.75"/>
<circle cx="397.7" cy="427.8" r="8.75"/>
<circle cx="390.0" cy="401.0" r="8.75"/>
<circle cx="397.7" cy="392.0" r="8.75"/>
<circle cx="406.7" cy="375.4" r="8.75"/>
<circle cx="368.3" cy="403.5" r="8.75"/>
<circle cx="424.6" cy="406.1" r="8.75"/>
<circle cx="354.2" cy="367.7" r="8.75"/>
<circle cx="524.4" cy="451.6" r="8.75"/>
<circle cx="542.3" cy="415.0" r="8.75"/>
<circle cx="523.4" cy="415.0" r="8.75"/>
<circle cx="524.4" cy="406.1" r="8.75"/>
<circle cx="511.1" cy="399.7" r="8.75"/>
<circle cx="559.7" cy="434.8" r="8.75"/>
<circle cx="589.0" cy="415.5" r="8.75"/>
<circle cx="514.9" cy="369.0" r="8.75"/>
<circle cx="504.2" cy="375.9" r="8.75"/>
<circle cx="486.8" cy="374.8" r="8.75"/>
<circle cx="494.5" cy="395.8" r="8.75"/>
<circle cx="480.4" cy="402.2" r="8.75"/>
<circle cx="451.0" cy="395.1" r="8.75"/>
<circle cx="442.0" cy="388.2" r="8.75"/>
<circle cx="444.0" cy="415.0" r="8.75"/>
<circle cx="454.8" cy="429.1" r="8.75"/>
<circle cx="442.0" cy="440.6" r="8.75"/>
<circle cx="461.2" cy="449.6" r="8.75"/>
<circle cx="444.6" cy="456.7" r="8.75"/>
<circle cx="463.7" cy="464.9" r="8.75"/>
<circle cx="433.0" cy="473.9" r="8.75"/>
<circle cx="479.1" cy="422.7" r="8.75"/>
<circle cx="491.9" cy="427.8" r="8.75"/>
<circle cx="484.2" cy="439.3" r="8.75"/>
<circle cx="477.8" cy="449.6" r="8.75"/>
<circle cx="494.5" cy="413.7" r="8.75"/>
<circle cx="425.4" cy="392.0" r="8.75"/>
<circle cx="429.2" cy="365.1" r="8.75"/>
<circle cx="476.5" cy="365.1" r="8.75"/>
<circle cx="140.0" cy="441.0" r="8.75"/>
<circle cx="204.0" cy="429.0" r="8.75"/>
<circle cx="242.5" cy="399.5" r="8.75"/>
<circle cx="275.5" cy="423.5" r="8.75"/>
<circle cx="253.5" cy="454.5" r="8.75"/>
<circle cx="447.1" cy="289.3" r="8.75"/>
<circle cx="475.8" cy="287.3" r="8.75"/>
<circle cx="470.7" cy="297.5" r="8.75"/>
<circle cx="421.5" cy="297.5" r="8.75"/>
<circle cx="436.9" cy="303.7" r="8.75"/>
<circle cx="457.3" cy="303.7" r="8.75"/>
</g>
<rect x="467.7" y="219.8" width="47.6" height="63.2" fill="none" stroke="#000" stroke-width="2.2"/>
<g class="d">
<circle cx="341.3" cy="187.0" r="8.7"/>
<circle cx="310.0" cy="213.2" r="8.7"/>
<circle cx="294.2" cy="238.9" r="8.7"/>
<circle cx="328.8" cy="237.6" r="8.7"/>
<circle cx="507.8" cy="145.6" r="8.7"/>
<circle cx="511.6" cy="141.3" r="8.7"/>
<circle cx="516.8" cy="139.8" r="8.7"/>
<circle cx="498.6" cy="186.6" r="8.7"/>
<circle cx="476.7" cy="206.1" r="8.7"/>
<circle cx="468.2" cy="211.0" r="8.7"/>
<circle cx="547.6" cy="215.8" r="8.7"/>
<circle cx="529.1" cy="250.4" r="8.7"/>
<circle cx="563.3" cy="269.2" r="8.7"/>
<circle cx="554.9" cy="308.6" r="8.7"/>
<circle cx="477.7" cy="232.5" r="8.7"/>
<circle cx="491.6" cy="228.2" r="8.7"/>
<circle cx="489.0" cy="239.2" r="8.7"/>
<circle cx="487.6" cy="247.8" r="8.7"/>
<circle cx="499.0" cy="250.6" r="8.7"/>
<circle cx="490.6" cy="254.5" r="8.7"/>
<circle cx="499.9" cy="262.0" r="8.7"/>
<circle cx="501.1" cy="272.6" r="8.7"/>
<circle cx="497.8" cy="274.8" r="8.7"/>
<circle cx="495.6" cy="276.9" r="8.7"/>
<circle cx="782.2" cy="40.0" r="12.5"/>
<circle cx="742.8" cy="55.6" r="12.5"/>
<circle cx="772.7" cy="71.8" r="12.5"/>
<circle cx="768.9" cy="91.3" r="12.5"/>
<circle cx="804.3" cy="105.5" r="12.5"/>
<circle cx="776.2" cy="113.5" r="12.5"/>
<circle cx="804.5" cy="138.4" r="12.5"/>
<circle cx="809.5" cy="169.7" r="12.5"/>
<circle cx="802.2" cy="172.6" r="12.5"/>
<circle cx="794.1" cy="181.3" r="12.5"/>
</g>
<path d="M375.3 53.9 L375.1 58.8 L374.9 63.5 L374.7 68.1 L374.5 72.6 L374.3 76.9 L374.1 81.2 L373.9 85.3 L373.7 89.3 L373.5 93.2 L373.2 97.0 L373.0 100.8 L372.8 104.4 L372.6 107.9 L372.4 111.4 L372.2 114.7 L371.9 118.0 L371.7 121.2 L371.5 124.4 L371.3 127.4 L371.0 130.4 L370.8 133.4 L370.6 136.2 L370.4 139.0 L370.1 141.8 L369.9 144.5 L369.7 147.1 L369.4 149.6 L369.2 152.2 L368.9 154.6 L368.7 157.0 L368.5 159.4 L368.2 161.7 L368.0 164.0 L367.7 166.2 L367.5 168.4 L367.3 170.5 L367.0 172.6 L366.8 174.7 L366.5 176.7 L366.3 178.7 L366.0 180.6 L365.7 182.5 L365.5 184.4 L365.2 186.3 L365.0 188.1 L364.7 189.8 L364.5 191.6 L364.2 193.3 L363.9 195.0 L363.7 196.6 L363.4 198.3 L363.1 199.9 L362.9 201.4 L362.6 203.0 L362.3 204.5 L362.0 206.0 L361.8 207.5 L361.5 208.9 L361.2 210.3 L360.9 211.7 L360.7 213.1 L360.4 214.5 L360.1 215.8 L359.8 217.1 L359.5 218.4 L359.2 219.7 L358.9 220.9 L358.6 222.2 L358.3 223.4 L358.0 224.6 L357.8 225.8 L357.5 226.9 L357.2 228.1 L356.9 229.2 L356.5 230.3 L356.2 231.4 L355.9 232.5 L355.6 233.6 L355.3 234.6 L355.0 235.6 L354.7 236.7 L354.4 237.7 L354.1 238.7 L353.7 239.7 L353.4 240.6 L353.1 241.6 L352.8 242.5 L352.5 243.4 L352.1 244.4 L351.8 245.3 L351.5 246.2 L351.1 247.0 L350.8 247.9 L350.5 248.8 L350.1 249.6 L349.8 250.4 L349.5 251.3 L349.1 252.1 L348.8 252.9 L348.4 253.7 L348.1 254.5 L347.7 255.2 L347.4 256.0 L347.0 256.8 L346.7 257.5 L346.3 258.2 L345.9 259.0 L345.6 259.7 L345.2 260.4 L344.8 261.1 L344.5 261.8 L344.1 262.5 L343.7 263.2 L343.4 263.8 L343.0 264.5 L342.6 265.1 L342.2 265.8 L341.8 266.4 L341.5 267.1 L341.1 267.7 L340.7 268.3 L340.3 268.9 L339.9 269.5 L339.5 270.1 L339.1 270.7 L338.7 271.3 L338.3 271.9 L337.9 272.4 L337.5 273.0 L337.1 273.6 L336.7 274.1 L336.3 274.7 L335.9 275.2 L335.5 275.7 L335.0 276.3 L334.6 276.8 L334.2 277.3 L333.8 277.8 L333.3 278.3 L332.9 278.8 L332.5 279.3 L332.0 279.8 L331.6 280.3 L331.2 280.8 L330.7 281.2 L330.3 281.7 L329.8 282.2 L329.4 282.6 L328.9 283.1 L328.5 283.6 L328.0 284.0 L327.6 284.4 L327.1 284.9 L326.7 285.3 L326.2 285.7 L325.7 286.2 L325.3 286.6 L324.8 287.0 L324.3 287.4 L323.8 287.8 L323.3 288.2 L322.9 288.6 L322.4 289.0 L321.9 289.4 L321.4 289.8 L320.9 290.2 L320.4 290.6 L319.9 291.0 L319.4 291.3 L318.9 291.7 L318.4 292.1 L317.9 292.4 L317.4 292.8 L316.9 293.2 L316.3 293.5 L315.8 293.9 L315.3 294.2 L314.8 294.6 L314.2 294.9 L313.7 295.2 L313.2 295.6 L312.6 295.9 L312.1 296.2 L311.6 296.6 L311.0 296.9 L310.5 297.2 L309.9 297.5 L309.4 297.8 L308.8 298.2 L308.2 298.5 L307.7 298.8 L307.1 299.1 L306.5 299.4 L306.0 299.7 L305.4 300.0 L304.8 300.3 L304.2 300.6 L303.6 300.8 L303.0 301.1 L302.5 301.4 L301.9 301.7 L301.3 302.0 L300.7 302.3 L300.1 302.5 L299.4 302.8 L298.8 303.1 L298.2 303.3 L297.6 303.6 L297.0 303.9 L296.4 304.1 L295.7 304.4 L295.1 304.6 L294.5 304.9 L293.8 305.1 L293.2 305.4 L292.5 305.6 L291.9 305.9 L291.2 306.1 L290.6 306.4 L289.9 306.6 L289.3 306.8 L288.6 307.1 L287.9 307.3 L287.3 307.5 L286.6 307.8 L285.9 308.0 L285.2 308.2 L284.5 308.5 L283.8 308.7 L283.1 308.9 L282.4 309.1 L281.7 309.3 L281.0 309.5 L280.3 309.8 L279.6 310.0 L278.9 310.2 L278.2 310.4 L277.5 310.6 L276.7 310.8 L276.0 311.0 L275.3 311.2 L274.5 311.4 L273.8 311.6 L273.0 311.8 L272.3 312.0 L271.5 312.2 L270.7 312.4 L270.0 312.6 L269.2 312.8 L268.4 313.0 L267.7 313.1 L266.9 313.3 L266.1 313.5 L265.3 313.7 L264.5 313.9 L263.7 314.1 L262.9 314.2 L262.1 314.4 L261.3 314.6 L260.5 314.8 L259.7 314.9 L258.8 315.1 L258.0 315.3 L257.2 315.4 L256.3 315.6 L255.5 315.8 L254.6 315.9 L253.8 316.1 L252.9 316.3 L252.1 316.4 L251.2 316.6 L250.3 316.8 L249.5 316.9 L248.6 317.1 L247.7 317.2 L246.8 317.4 L245.9 317.5 L245.0 317.7 L244.1 317.8 L243.2 318.0 L242.3 318.1 L241.4 318.3 L240.5 318.4 L239.5 318.6 L238.6 318.7 L237.7 318.9 L236.7 319.0 L235.8 319.2 L234.8 319.3 L233.9 319.4 L232.9 319.6 L231.9 319.7 L231.0 319.9 L230.0 320.0 L229.0 320.1 L228.0 320.3 L227.0 320.4 L226.0 320.5 L225.0 320.7 L224.0 320.8 L223.0 320.9 L222.0 321.0 L220.9 321.2 L219.9 321.3 L218.9 321.4 L217.8 321.5 L216.8 321.7 L215.7 321.8 L214.7 321.9 L213.6 322.0 L212.5 322.2 L211.4 322.3 L210.4 322.4 L209.3 322.5 L208.2 322.6 L207.1 322.7 L206.0 322.9 L204.8 323.0 L203.7 323.1 L202.6 323.2 L201.5 323.3 L200.3 323.4 L199.2 323.5 L198.0 323.7 L196.9 323.8 L195.7 323.9 L194.6 324.0 L193.4 324.1 L192.2 324.2 L191.0 324.3 L189.8 324.4 L188.6 324.5 L187.4 324.6 L186.2 324.7 L185.0 324.8 L183.8 324.9 L182.5 325.0 L181.3 325.1 L180.1 325.2 L178.8 325.3 L177.5 325.4 L176.3 325.5 L175.0 325.6 L173.7 325.7 L172.4 325.8 L171.2 325.9 L169.9 326.0 L168.5 326.1 L167.2 326.2 L165.9 326.3 L164.6 326.4 L163.3 326.5 L161.9 326.5 L160.6 326.6 L159.2 326.7 L157.8 326.8 L156.5 326.9 L155.1 327.0 L153.7 327.1 L152.3 327.2 L150.9 327.3 L149.5 327.3 L148.1 327.4 L146.7 327.5 L145.2 327.6 L143.8 327.7 L142.4 327.8 L140.9 327.8 L139.4 327.9 L138.0 328.0 L136.5 328.1 L135.0 328.2 L133.5 328.2 L132.0 328.3 L130.5 328.4 L129.0 328.5 L127.5 328.6 L125.9 328.6 L124.4 328.7 L122.8 328.8 L121.3 328.9 L119.7 328.9 L118.1 329.0 L116.6 329.1 L115.0 329.2 L113.4 329.2 L111.8 329.3 L110.1 329.4 L108.5 329.5 L106.9 329.5 L105.2 329.6 L103.6 329.7 L101.9 329.7 L100.2 329.8 L98.6 329.9 L96.9 329.9 L95.2 330.0 L93.5 330.1 L91.8 330.1 L90.0 330.2" fill="none" stroke="#000" stroke-width="2.2" stroke-dasharray="4.2 3.85"/>
<path d="M451.5 53.9 L451.7 58.8 L451.9 63.5 L452.1 68.2 L452.3 72.6 L452.5 77.0 L452.7 81.3 L452.9 85.4 L453.1 89.5 L453.3 93.4 L453.6 97.2 L453.8 100.9 L454.0 104.6 L454.2 108.1 L454.4 111.6 L454.7 115.0 L454.9 118.3 L455.1 121.5 L455.3 124.6 L455.6 127.7 L455.8 130.7 L456.0 133.7 L456.2 136.5 L456.5 139.3 L456.7 142.1 L456.9 144.8 L457.2 147.4 L457.4 150.0 L457.6 152.5 L457.9 155.0 L458.1 157.4 L458.4 159.7 L458.6 162.1 L458.8 164.3 L459.1 166.6 L459.3 168.7 L459.6 170.9 L459.8 173.0 L460.1 175.1 L460.3 177.1 L460.6 179.1 L460.8 181.0 L461.1 182.9 L461.4 184.8 L461.6 186.6 L461.9 188.4 L462.1 190.2 L462.4 192.0 L462.7 193.7 L462.9 195.4 L463.2 197.0 L463.5 198.6 L463.7 200.2 L464.0 201.8 L464.3 203.4 L464.6 204.9 L464.8 206.4 L465.1 207.8 L465.4 209.3 L465.7 210.7 L465.9 212.1 L466.2 213.5 L466.5 214.9 L466.8 216.2 L467.1 217.5 L467.4 218.8 L467.7 220.1 L468.0 221.3 L468.3 222.6 L468.5 223.8 L468.8 225.0 L469.1 226.2 L469.4 227.3 L469.7 228.5 L470.1 229.6 L470.4 230.7 L470.7 231.8 L471.0 232.9 L471.3 233.9 L471.6 235.0 L471.9 236.0 L472.2 237.1 L472.5 238.1 L472.9 239.1 L473.2 240.0 L473.5 241.0 L473.8 242.0 L474.2 242.9 L474.5 243.8 L474.8 244.7 L475.1 245.6 L475.5 246.5 L475.8 247.4 L476.1 248.3 L476.5 249.1 L476.8 250.0 L477.2 250.8 L477.5 251.6 L477.9 252.4 L478.2 253.3 L478.5 254.0 L478.9 254.8 L479.3 255.6 L479.6 256.4 L480.0 257.1 L480.3 257.9 L480.7 258.6 L481.0 259.3 L481.4 260.0 L481.8 260.8 L482.1 261.5 L482.5 262.1 L482.9 262.8 L483.3 263.5 L483.6 264.2 L484.0 264.8 L484.4 265.5 L484.8 266.1 L485.2 266.8 L485.6 267.4 L485.9 268.0 L486.3 268.6 L486.7 269.3 L487.1 269.9 L487.5 270.5 L487.9 271.0 L488.3 271.6 L488.7 272.2 L489.1 272.8 L489.5 273.3 L489.9 273.9 L490.4 274.4 L490.8 275.0 L491.2 275.5 L491.6 276.1 L492.0 276.6 L492.5 277.1 L492.9 277.6 L493.3 278.1 L493.7 278.6 L494.2 279.1 L494.6 279.6 L495.0 280.1 L495.5 280.6 L495.9 281.1 L496.4 281.6 L496.8 282.0 L497.3 282.5 L497.7 283.0 L498.2 283.4 L498.6 283.9 L499.1 284.3 L499.5 284.8 L500.0 285.2 L500.5 285.6 L500.9 286.1 L501.4 286.5 L501.9 286.9 L502.4 287.3 L502.9 287.7 L503.3 288.1 L503.8 288.5 L504.3 288.9 L504.8 289.3 L505.3 289.7 L505.8 290.1 L506.3 290.5 L506.8 290.9 L507.3 291.3 L507.8 291.6 L508.3 292.0 L508.8 292.4 L509.3 292.7 L509.8 293.1 L510.4 293.5 L510.9 293.8 L511.4 294.2 L511.9 294.5 L512.5 294.9 L513.0 295.2 L513.5 295.5 L514.1 295.9 L514.6 296.2 L515.2 296.5 L515.7 296.8 L516.3 297.2 L516.8 297.5 L517.4 297.8 L517.9 298.1 L518.5 298.4 L519.1 298.7 L519.6 299.0 L520.2 299.4 L520.8 299.7 L521.4 299.9 L521.9 300.2 L522.5 300.5 L523.1 300.8 L523.7 301.1 L524.3 301.4 L524.9 301.7 L525.5 302.0 L526.1 302.2 L526.7 302.5 L527.3 302.8 L527.9 303.1 L528.6 303.3 L529.2 303.6 L529.8 303.9 L530.4 304.1 L531.1 304.4 L531.7 304.6 L532.3 304.9 L533.0 305.1 L533.6 305.4 L534.3 305.6 L534.9 305.9 L535.6 306.1 L536.2 306.4 L536.9 306.6 L537.6 306.8 L538.2 307.1 L538.9 307.3 L539.6 307.6 L540.2 307.8 L540.9 308.0 L541.6 308.2 L542.3 308.5 L543.0 308.7 L543.7 308.9 L544.4 309.1 L545.1 309.3 L545.8 309.6 L546.5 309.8 L547.3 310.0 L548.0 310.2 L548.7 310.4 L549.4 310.6 L550.2 310.8 L550.9 311.0 L551.6 311.2 L552.4 311.4 L553.1 311.6 L553.9 311.8 L554.6 312.0 L555.4 312.2 L556.2 312.4 L556.9 312.6 L557.7 312.8 L558.5 313.0 L559.3 313.2 L560.1 313.4 L560.8 313.5 L561.6 313.7 L562.4 313.9 L563.2 314.1 L564.1 314.3 L564.9 314.4 L565.7 314.6 L566.5 314.8 L567.3 315.0 L568.2 315.1 L569.0 315.3 L569.8 315.5 L570.7 315.7 L571.5 315.8 L572.4 316.0 L573.2 316.2 L574.1 316.3 L575.0 316.5 L575.8 316.6 L576.7 316.8 L577.6 317.0 L578.5 317.1 L579.4 317.3 L580.2 317.4 L581.1 317.6 L582.0 317.7 L583.0 317.9 L583.9 318.0 L584.8 318.2 L585.7 318.3 L586.6 318.5 L587.6 318.6 L588.5 318.8 L589.5 318.9 L590.4 319.1 L591.4 319.2 L592.3 319.3 L593.3 319.5 L594.3 319.6 L595.2 319.8 L596.2 319.9 L597.2 320.0 L598.2 320.2 L599.2 320.3 L600.2 320.4 L601.2 320.6 L602.2 320.7 L603.2 320.8 L604.2 321.0 L605.3 321.1 L606.3 321.2 L607.3 321.3 L608.4 321.5 L609.4 321.6 L610.5 321.7 L611.6 321.8 L612.6 322.0 L613.7 322.1 L614.8 322.2 L615.9 322.3 L616.9 322.5 L618.0 322.6 L619.1 322.7 L620.3 322.8 L621.4 322.9 L622.5 323.0 L623.6 323.2 L624.8 323.3 L625.9 323.4 L627.0 323.5 L628.2 323.6 L629.3 323.7 L630.5 323.8 L631.7 323.9 L632.9 324.0 L634.0 324.1 L635.2 324.3 L636.4 324.4 L637.6 324.5 L638.8 324.6 L640.0 324.7 L641.3 324.8 L642.5 324.9 L643.7 325.0 L645.0 325.1 L646.2 325.2 L647.5 325.3 L648.7 325.4 L650.0 325.5 L651.3 325.6 L652.6 325.7 L653.8 325.8 L655.1 325.9 L656.4 326.0 L657.8 326.1 L659.1 326.1 L660.4 326.2 L661.7 326.3 L663.1 326.4 L664.4 326.5 L665.8 326.6 L667.1 326.7 L668.5 326.8 L669.9 326.9 L671.2 327.0 L672.6 327.1 L674.0 327.1 L675.4 327.2 L676.8 327.3 L678.3 327.4 L679.7 327.5 L681.1 327.6 L682.6 327.7 L684.0 327.7 L685.5 327.8 L686.9 327.9 L688.4 328.0 L689.9 328.1 L691.4 328.1 L692.9 328.2 L694.4 328.3 L695.9 328.4 L697.4 328.5 L699.0 328.5 L700.5 328.6 L702.0 328.7 L703.6 328.8 L705.2 328.8 L706.7 328.9 L708.3 329.0 L709.9 329.1 L711.5 329.1 L713.1 329.2 L714.7 329.3 L716.3 329.4 L718.0 329.4 L719.6 329.5 L721.3 329.6 L722.9 329.7 L724.6 329.7 L726.3 329.8 L728.0 329.9 L729.7 329.9 L731.4 330.0 L733.1 330.1 L734.8 330.1 L736.5 330.2 L738.3 330.3 L740.0 330.3" fill="none" stroke="#000" stroke-width="2.2" stroke-dasharray="4.2 3.85"/>
<g stroke="#000" stroke-width="1.25" stroke-dasharray="4.6 3.2" fill="none">
<path d="M515.8 218.6L651 4.5"/>
<path d="M515.8 283.6L650.5 224.6"/>
</g>
<rect x="651.6" y="3.85" width="245.8" height="220.95" fill="#fff" stroke="#000" stroke-width="2.5"/>
<g class="d">
<circle cx="782.2" cy="40.0" r="12.5"/>
<circle cx="742.8" cy="55.6" r="12.5"/>
<circle cx="772.7" cy="71.8" r="12.5"/>
<circle cx="768.9" cy="91.3" r="12.5"/>
<circle cx="804.3" cy="105.5" r="12.5"/>
<circle cx="776.2" cy="113.5" r="12.5"/>
<circle cx="804.5" cy="138.4" r="12.5"/>
<circle cx="809.5" cy="169.7" r="12.5"/>
<circle cx="802.2" cy="172.6" r="12.5"/>
<circle cx="794.1" cy="181.3" r="12.5"/>
</g>
<g class="ln">
<line x1="310.2" y1="172.2" x2="340.1" y2="186.1"/>
<line x1="306.5" y1="266.2" x2="324.8" y2="239.7"/>
<line x1="511.7" y1="87.9" x2="507.3" y2="146"/>
<line x1="525.9" y1="113.8" x2="511" y2="141.6"/>
<line x1="535" y1="133.4" x2="520.6" y2="138.2"/>
<line x1="470" y1="174.6" x2="467.8" y2="212"/>
<line x1="786.3" y1="138.4" x2="802.2" y2="139.2"/>
<line x1="769.8" y1="167.6" x2="800.8" y2="170.5"/>
<line x1="792.1" y1="182.1" x2="793.5" y2="193.7"/>
</g>
<g transform="translate(274.6 170.8)"><text class="lab" transform="scale(1 1.041)"><tspan x="0.00">PPAT</tspan></text></g>
<g transform="translate(207.7 220.9)"><text class="lab" transform="scale(1 1.041)"><tspan x="0.00">COL</tspan><tspan x="62.70">A</tspan></text><path class="lab" vector-effect="non-scaling-stroke" transform="translate(49.35 0) scale(0.01172 -0.01172)" d="M763 0H583V1147Q518 1085 412.5 1023T223 930V1104Q374 1175 487 1276T647 1472H763Z"/><path class="lab" vector-effect="non-scaling-stroke" transform="translate(78.70 0) scale(0.01172 -0.01172)" d="M763 0H583V1147Q518 1085 412.5 1023T223 930V1104Q374 1175 487 1276T647 1472H763Z"/></g>
<g transform="translate(190.5 249.1)"><text class="lab" transform="scale(1 1.041)"><tspan x="0.00">HAPLN</tspan></text><path class="lab" vector-effect="non-scaling-stroke" transform="translate(80.03 0) scale(0.01172 -0.01172)" d="M763 0H583V1147Q518 1085 412.5 1023T223 930V1104Q374 1175 487 1276T647 1472H763Z"/></g>
<g transform="translate(188.6 287.1)"><text class="lab" transform="scale(1 1.041)"><tspan x="0.00">SLC39A</tspan><tspan x="102.74">0</tspan></text><path class="lab" vector-effect="non-scaling-stroke" transform="translate(89.39 0) scale(0.01172 -0.01172)" d="M763 0H583V1147Q518 1085 412.5 1023T223 930V1104Q374 1175 487 1276T647 1472H763Z"/></g>
<g transform="translate(473.0 85.7)"><text class="lab" transform="scale(1 1.041)"><tspan x="0.00">EPM2AIP</tspan></text><path class="lab" vector-effect="non-scaling-stroke" transform="translate(104.04 0) scale(0.01172 -0.01172)" d="M763 0H583V1147Q518 1085 412.5 1023T223 930V1104Q374 1175 487 1276T647 1472H763Z"/></g>
<g transform="translate(524.7 112.3)"><text class="lab" transform="scale(1 1.041)"><tspan x="0.00">ANGPTL2</tspan></text></g>
<g transform="translate(536.9 139.8)"><text class="lab" transform="scale(1 1.041)"><tspan x="0.00">AKT</tspan></text><path class="lab" vector-effect="non-scaling-stroke" transform="translate(46.68 0) scale(0.01172 -0.01172)" d="M763 0H583V1147Q518 1085 412.5 1023T223 930V1104Q374 1175 487 1276T647 1472H763Z"/></g>
<g transform="translate(465.6 173.9)"><text class="lab" transform="scale(1 1.041)"><tspan x="0.00">CEMIP2</tspan></text></g>
<g transform="translate(508.8 196.2)"><text class="lab" transform="scale(1 1.041)"><tspan x="0.00">EPHB6</tspan></text></g>
<g transform="translate(486.2 214.1)"><text class="lab" transform="scale(1 1.041)"><tspan x="0.00">CRK</tspan></text></g>
<g transform="translate(554.5 223.9)"><text class="lab" transform="scale(1 1.041)"><tspan x="0.00">MET</tspan></text></g>
<g transform="translate(538.5 259.6)"><text class="lab" transform="scale(1 1.041)"><tspan x="0.00">MMP</tspan></text><path class="lab" vector-effect="non-scaling-stroke" transform="translate(55.99 0) scale(0.01172 -0.01172)" d="M763 0H583V1147Q518 1085 412.5 1023T223 930V1104Q374 1175 487 1276T647 1472H763Z"/></g>
<g transform="translate(573.0 279.1)"><text class="lab" transform="scale(1 1.041)"><tspan x="0.00">GLT8D</tspan></text><path class="lab" vector-effect="non-scaling-stroke" transform="translate(77.36 0) scale(0.01172 -0.01172)" d="M763 0H583V1147Q518 1085 412.5 1023T223 930V1104Q374 1175 487 1276T647 1472H763Z"/></g>
<g transform="translate(564.5 314.3)"><text class="lab" transform="scale(1 1.041)"><tspan x="0.00">LEFTY</tspan></text><path class="lab" vector-effect="non-scaling-stroke" transform="translate(74.68 0) scale(0.01172 -0.01172)" d="M763 0H583V1147Q518 1085 412.5 1023T223 930V1104Q374 1175 487 1276T647 1472H763Z"/></g>
<g transform="translate(757.1 26.9)"><text class="lab" transform="scale(1 1.041)"><tspan x="0.00">PPT2</tspan></text></g>
<g transform="translate(654.0 64.5)"><text class="lab" transform="scale(1 1.041)"><tspan x="0.00">CIRBP</tspan></text></g>
<g transform="translate(786.5 80.0)"><text class="lab" transform="scale(1 1.041)"><tspan x="0.00">ADAM</tspan><tspan x="82.69">9</tspan></text><path class="lab" vector-effect="non-scaling-stroke" transform="translate(69.34 0) scale(0.01172 -0.01172)" d="M763 0H583V1147Q518 1085 412.5 1023T223 930V1104Q374 1175 487 1276T647 1472H763Z"/></g>
<g transform="translate(692.9 101.5)"><text class="lab" transform="scale(1 1.041)"><tspan x="0.00">NEU</tspan></text><path class="lab" vector-effect="non-scaling-stroke" transform="translate(50.67 0) scale(0.01172 -0.01172)" d="M763 0H583V1147Q518 1085 412.5 1023T223 930V1104Q374 1175 487 1276T647 1472H763Z"/></g>
<g transform="translate(819.2 114.7)"><text class="lab" transform="scale(1 1.041)"><tspan x="0.00">STC</tspan></text><path class="lab" vector-effect="non-scaling-stroke" transform="translate(48.00 0) scale(0.01172 -0.01172)" d="M763 0H583V1147Q518 1085 412.5 1023T223 930V1104Q374 1175 487 1276T647 1472H763Z"/></g>
<g transform="translate(681.8 122.8)"><text class="lab" transform="scale(1 1.041)"><tspan x="0.00">LNPEP</tspan></text></g>
<g transform="translate(657.5 150.2)"><text class="lab" transform="scale(1 1.041)"><tspan x="0.00">ADAMTS</tspan><tspan x="113.36">4</tspan></text><path class="lab" vector-effect="non-scaling-stroke" transform="translate(100.01 0) scale(0.01172 -0.01172)" d="M763 0H583V1147Q518 1085 412.5 1023T223 930V1104Q374 1175 487 1276T647 1472H763Z"/></g>
<g transform="translate(677.9 177.8)"><text class="lab" transform="scale(1 1.041)"><tspan x="0.00">PHF2</tspan><tspan x="74.70">A</tspan></text><path class="lab" vector-effect="non-scaling-stroke" transform="translate(61.35 0) scale(0.01172 -0.01172)" d="M763 0H583V1147Q518 1085 412.5 1023T223 930V1104Q374 1175 487 1276T647 1472H763Z"/></g>
<g transform="translate(828.0 178.2)"><text class="lab" transform="scale(1 1.041)"><tspan x="0.00">GNS</tspan></text></g>
<g transform="translate(742.6 218.2)"><text class="lab" transform="scale(1 1.041)"><tspan x="0.00">PIP4K2A</tspan></text></g>
</svg></body></html>
